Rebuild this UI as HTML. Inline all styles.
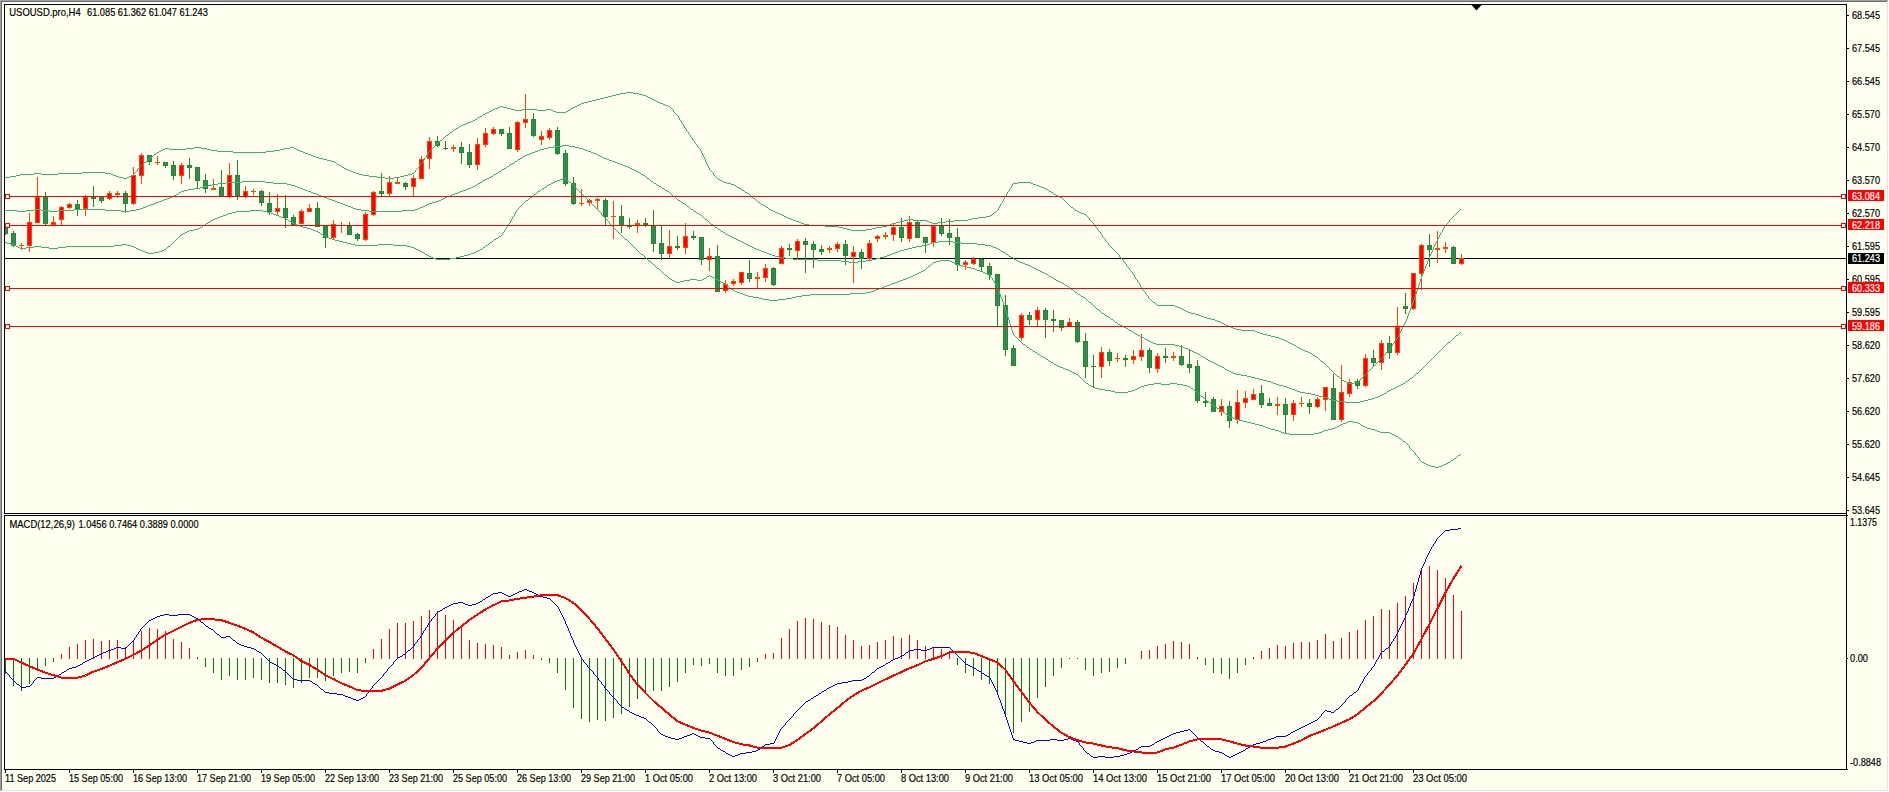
<!DOCTYPE html>
<html><head><meta charset="utf-8"><title>USOUSD.pro,H4</title>
<style>
html,body{margin:0;padding:0;background:#FFFFF0;overflow:hidden}
svg{display:block}
text{font-family:"Liberation Sans",sans-serif;font-size:10.1px;fill:#000;stroke:#000;stroke-width:0.18px}
text.w{fill:#fff;stroke:#fff}
</style></head><body>
<svg width="1889" height="792" viewBox="0 0 1889 792" shape-rendering="crispEdges">
<rect x="0" y="0" width="1889" height="792" fill="#FFFFF0"/>
<rect x="0" y="0" width="1888" height="1" fill="#A0A0A0"/><rect x="0" y="0" width="1" height="791" fill="#A0A0A0"/>
<rect x="1" y="1" width="1886" height="1" fill="#696969"/><rect x="1" y="1" width="1" height="789" fill="#696969"/>
<rect x="2" y="2" width="1845" height="2" fill="#FFFFFF"/><rect x="2" y="2" width="2" height="768" fill="#FFFFFF"/>
<rect x="1888" y="0" width="1" height="792" fill="#FFFFFF"/><rect x="0" y="791" width="1889" height="1" fill="#FFFFFF"/>
<rect x="1887" y="1" width="1" height="790" fill="#E3E3E3"/><rect x="1" y="790" width="1887" height="1" fill="#E3E3E3"/>
<defs><clipPath id="cm"><rect x="5" y="5" width="1841" height="508"/></clipPath><clipPath id="cs"><rect x="5" y="516" width="1841" height="253"/></clipPath></defs>
<g clip-path="url(#cm)">
<rect x="5" y="258" width="1841" height="1" fill="#000"/>
<rect x="5" y="225" width="1" height="10" fill="#228B22"/>
<rect x="3" y="226" width="5" height="8" fill="#228B22"/>
<rect x="4" y="227" width="3" height="6" fill="#2E8B57"/>
<rect x="13" y="231" width="1" height="16" fill="#228B22"/>
<rect x="11" y="233" width="5" height="13" fill="#228B22"/>
<rect x="12" y="234" width="3" height="11" fill="#2E8B57"/>
<rect x="21" y="243" width="1" height="7" fill="#FF4500"/>
<rect x="19" y="245" width="5" height="1" fill="#FF4500"/>
<rect x="29" y="213" width="1" height="39" fill="#FF4500"/>
<rect x="27" y="222" width="5" height="24" fill="#FF4500"/>
<rect x="28" y="223" width="3" height="22" fill="#FF0000"/>
<rect x="37" y="177" width="1" height="46" fill="#FF4500"/>
<rect x="35" y="197" width="5" height="26" fill="#FF4500"/>
<rect x="36" y="198" width="3" height="24" fill="#FF0000"/>
<rect x="45" y="192" width="1" height="33" fill="#228B22"/>
<rect x="43" y="197" width="5" height="27" fill="#228B22"/>
<rect x="44" y="198" width="3" height="25" fill="#2E8B57"/>
<rect x="53" y="216" width="1" height="9" fill="#FF4500"/>
<rect x="51" y="222" width="5" height="3" fill="#FF4500"/>
<rect x="52" y="223" width="3" height="1" fill="#FF0000"/>
<rect x="61" y="206" width="1" height="19" fill="#FF4500"/>
<rect x="59" y="207" width="5" height="13" fill="#FF4500"/>
<rect x="60" y="208" width="3" height="11" fill="#FF0000"/>
<rect x="69" y="203" width="1" height="6" fill="#FF4500"/>
<rect x="67" y="204" width="5" height="4" fill="#FF4500"/>
<rect x="68" y="205" width="3" height="2" fill="#FF0000"/>
<rect x="77" y="200" width="1" height="16" fill="#228B22"/>
<rect x="75" y="204" width="5" height="5" fill="#228B22"/>
<rect x="76" y="205" width="3" height="3" fill="#2E8B57"/>
<rect x="85" y="195" width="1" height="21" fill="#FF4500"/>
<rect x="83" y="197" width="5" height="12" fill="#FF4500"/>
<rect x="84" y="198" width="3" height="10" fill="#FF0000"/>
<rect x="93" y="186" width="1" height="21" fill="#228B22"/>
<rect x="91" y="197" width="5" height="2" fill="#228B22"/>
<rect x="101" y="196" width="1" height="7" fill="#228B22"/>
<rect x="99" y="197" width="5" height="4" fill="#228B22"/>
<rect x="100" y="198" width="3" height="2" fill="#2E8B57"/>
<rect x="109" y="191" width="1" height="9" fill="#FF4500"/>
<rect x="107" y="193" width="5" height="6" fill="#FF4500"/>
<rect x="108" y="194" width="3" height="4" fill="#FF0000"/>
<rect x="117" y="191" width="1" height="7" fill="#FF4500"/>
<rect x="115" y="193" width="5" height="2" fill="#FF4500"/>
<rect x="125" y="191" width="1" height="22" fill="#228B22"/>
<rect x="123" y="193" width="5" height="11" fill="#228B22"/>
<rect x="124" y="194" width="3" height="9" fill="#2E8B57"/>
<rect x="133" y="167" width="1" height="38" fill="#FF4500"/>
<rect x="131" y="175" width="5" height="29" fill="#FF4500"/>
<rect x="132" y="176" width="3" height="27" fill="#FF0000"/>
<rect x="141" y="153" width="1" height="31" fill="#FF4500"/>
<rect x="139" y="155" width="5" height="21" fill="#FF4500"/>
<rect x="140" y="156" width="3" height="19" fill="#FF0000"/>
<rect x="149" y="155" width="1" height="10" fill="#228B22"/>
<rect x="147" y="155" width="5" height="7" fill="#228B22"/>
<rect x="148" y="156" width="3" height="5" fill="#2E8B57"/>
<rect x="157" y="156" width="1" height="9" fill="#FF4500"/>
<rect x="155" y="162" width="5" height="1" fill="#FF4500"/>
<rect x="165" y="162" width="1" height="6" fill="#228B22"/>
<rect x="163" y="162" width="5" height="4" fill="#228B22"/>
<rect x="164" y="163" width="3" height="2" fill="#2E8B57"/>
<rect x="173" y="161" width="1" height="19" fill="#228B22"/>
<rect x="171" y="165" width="5" height="11" fill="#228B22"/>
<rect x="172" y="166" width="3" height="9" fill="#2E8B57"/>
<rect x="181" y="163" width="1" height="21" fill="#FF4500"/>
<rect x="179" y="165" width="5" height="11" fill="#FF4500"/>
<rect x="180" y="166" width="3" height="9" fill="#FF0000"/>
<rect x="189" y="158" width="1" height="21" fill="#228B22"/>
<rect x="187" y="165" width="5" height="3" fill="#228B22"/>
<rect x="188" y="166" width="3" height="1" fill="#2E8B57"/>
<rect x="197" y="167" width="1" height="21" fill="#228B22"/>
<rect x="195" y="167" width="5" height="14" fill="#228B22"/>
<rect x="196" y="168" width="3" height="12" fill="#2E8B57"/>
<rect x="205" y="174" width="1" height="19" fill="#228B22"/>
<rect x="203" y="180" width="5" height="9" fill="#228B22"/>
<rect x="204" y="181" width="3" height="7" fill="#2E8B57"/>
<rect x="213" y="179" width="1" height="11" fill="#FF4500"/>
<rect x="211" y="188" width="5" height="2" fill="#FF4500"/>
<rect x="221" y="170" width="1" height="27" fill="#228B22"/>
<rect x="219" y="187" width="5" height="10" fill="#228B22"/>
<rect x="220" y="188" width="3" height="8" fill="#2E8B57"/>
<rect x="229" y="163" width="1" height="35" fill="#FF4500"/>
<rect x="227" y="175" width="5" height="22" fill="#FF4500"/>
<rect x="228" y="176" width="3" height="20" fill="#FF0000"/>
<rect x="237" y="160" width="1" height="40" fill="#228B22"/>
<rect x="235" y="175" width="5" height="22" fill="#228B22"/>
<rect x="236" y="176" width="3" height="20" fill="#2E8B57"/>
<rect x="245" y="186" width="1" height="12" fill="#FF4500"/>
<rect x="243" y="191" width="5" height="6" fill="#FF4500"/>
<rect x="244" y="192" width="3" height="4" fill="#FF0000"/>
<rect x="253" y="189" width="1" height="6" fill="#FF4500"/>
<rect x="251" y="191" width="5" height="1" fill="#FF4500"/>
<rect x="261" y="190" width="1" height="16" fill="#228B22"/>
<rect x="259" y="191" width="5" height="12" fill="#228B22"/>
<rect x="260" y="192" width="3" height="10" fill="#2E8B57"/>
<rect x="269" y="192" width="1" height="23" fill="#228B22"/>
<rect x="267" y="203" width="5" height="9" fill="#228B22"/>
<rect x="268" y="204" width="3" height="7" fill="#2E8B57"/>
<rect x="277" y="194" width="1" height="22" fill="#FF4500"/>
<rect x="275" y="208" width="5" height="4" fill="#FF4500"/>
<rect x="276" y="209" width="3" height="2" fill="#FF0000"/>
<rect x="285" y="195" width="1" height="33" fill="#228B22"/>
<rect x="283" y="208" width="5" height="10" fill="#228B22"/>
<rect x="284" y="209" width="3" height="8" fill="#2E8B57"/>
<rect x="293" y="215" width="1" height="10" fill="#228B22"/>
<rect x="291" y="217" width="5" height="8" fill="#228B22"/>
<rect x="292" y="218" width="3" height="6" fill="#2E8B57"/>
<rect x="301" y="209" width="1" height="15" fill="#FF4500"/>
<rect x="299" y="211" width="5" height="13" fill="#FF4500"/>
<rect x="300" y="212" width="3" height="11" fill="#FF0000"/>
<rect x="309" y="204" width="1" height="8" fill="#FF4500"/>
<rect x="307" y="208" width="5" height="4" fill="#FF4500"/>
<rect x="308" y="209" width="3" height="2" fill="#FF0000"/>
<rect x="317" y="202" width="1" height="25" fill="#228B22"/>
<rect x="315" y="208" width="5" height="19" fill="#228B22"/>
<rect x="316" y="209" width="3" height="17" fill="#2E8B57"/>
<rect x="325" y="226" width="1" height="22" fill="#228B22"/>
<rect x="323" y="226" width="5" height="12" fill="#228B22"/>
<rect x="324" y="227" width="3" height="10" fill="#2E8B57"/>
<rect x="333" y="220" width="1" height="19" fill="#FF4500"/>
<rect x="331" y="224" width="5" height="14" fill="#FF4500"/>
<rect x="332" y="225" width="3" height="12" fill="#FF0000"/>
<rect x="341" y="222" width="1" height="11" fill="#FF4500"/>
<rect x="339" y="225" width="5" height="1" fill="#FF4500"/>
<rect x="349" y="222" width="1" height="13" fill="#228B22"/>
<rect x="347" y="226" width="5" height="9" fill="#228B22"/>
<rect x="348" y="227" width="3" height="7" fill="#2E8B57"/>
<rect x="357" y="233" width="1" height="8" fill="#228B22"/>
<rect x="355" y="234" width="5" height="5" fill="#228B22"/>
<rect x="356" y="235" width="3" height="3" fill="#2E8B57"/>
<rect x="365" y="212" width="1" height="29" fill="#FF4500"/>
<rect x="363" y="214" width="5" height="26" fill="#FF4500"/>
<rect x="364" y="215" width="3" height="24" fill="#FF0000"/>
<rect x="373" y="191" width="1" height="25" fill="#FF4500"/>
<rect x="371" y="192" width="5" height="23" fill="#FF4500"/>
<rect x="372" y="193" width="3" height="21" fill="#FF0000"/>
<rect x="381" y="173" width="1" height="23" fill="#228B22"/>
<rect x="379" y="191" width="5" height="3" fill="#228B22"/>
<rect x="380" y="192" width="3" height="1" fill="#2E8B57"/>
<rect x="389" y="176" width="1" height="20" fill="#FF4500"/>
<rect x="387" y="182" width="5" height="12" fill="#FF4500"/>
<rect x="388" y="183" width="3" height="10" fill="#FF0000"/>
<rect x="397" y="177" width="1" height="7" fill="#FF4500"/>
<rect x="395" y="182" width="5" height="2" fill="#FF4500"/>
<rect x="405" y="182" width="1" height="8" fill="#228B22"/>
<rect x="403" y="183" width="5" height="4" fill="#228B22"/>
<rect x="404" y="184" width="3" height="2" fill="#2E8B57"/>
<rect x="413" y="175" width="1" height="21" fill="#FF4500"/>
<rect x="411" y="178" width="5" height="9" fill="#FF4500"/>
<rect x="412" y="179" width="3" height="7" fill="#FF0000"/>
<rect x="421" y="156" width="1" height="23" fill="#FF4500"/>
<rect x="419" y="159" width="5" height="20" fill="#FF4500"/>
<rect x="420" y="160" width="3" height="18" fill="#FF0000"/>
<rect x="429" y="137" width="1" height="32" fill="#FF4500"/>
<rect x="427" y="141" width="5" height="18" fill="#FF4500"/>
<rect x="428" y="142" width="3" height="16" fill="#FF0000"/>
<rect x="437" y="136" width="1" height="11" fill="#228B22"/>
<rect x="435" y="141" width="5" height="5" fill="#228B22"/>
<rect x="436" y="142" width="3" height="3" fill="#2E8B57"/>
<rect x="445" y="141" width="1" height="9" fill="#228B22"/>
<rect x="443" y="148" width="5" height="1" fill="#228B22"/>
<rect x="453" y="145" width="1" height="7" fill="#FF4500"/>
<rect x="451" y="147" width="5" height="2" fill="#FF4500"/>
<rect x="461" y="142" width="1" height="22" fill="#228B22"/>
<rect x="459" y="147" width="5" height="6" fill="#228B22"/>
<rect x="460" y="148" width="3" height="4" fill="#2E8B57"/>
<rect x="469" y="144" width="1" height="24" fill="#228B22"/>
<rect x="467" y="152" width="5" height="13" fill="#228B22"/>
<rect x="468" y="153" width="3" height="11" fill="#2E8B57"/>
<rect x="477" y="138" width="1" height="32" fill="#FF4500"/>
<rect x="475" y="144" width="5" height="21" fill="#FF4500"/>
<rect x="476" y="145" width="3" height="19" fill="#FF0000"/>
<rect x="485" y="128" width="1" height="19" fill="#FF4500"/>
<rect x="483" y="133" width="5" height="12" fill="#FF4500"/>
<rect x="484" y="134" width="3" height="10" fill="#FF0000"/>
<rect x="493" y="127" width="1" height="8" fill="#FF4500"/>
<rect x="491" y="129" width="5" height="5" fill="#FF4500"/>
<rect x="492" y="130" width="3" height="3" fill="#FF0000"/>
<rect x="501" y="129" width="1" height="7" fill="#228B22"/>
<rect x="499" y="129" width="5" height="5" fill="#228B22"/>
<rect x="500" y="130" width="3" height="3" fill="#2E8B57"/>
<rect x="509" y="127" width="1" height="22" fill="#228B22"/>
<rect x="507" y="133" width="5" height="16" fill="#228B22"/>
<rect x="508" y="134" width="3" height="14" fill="#2E8B57"/>
<rect x="517" y="121" width="1" height="31" fill="#FF4500"/>
<rect x="515" y="122" width="5" height="28" fill="#FF4500"/>
<rect x="516" y="123" width="3" height="26" fill="#FF0000"/>
<rect x="525" y="94" width="1" height="34" fill="#FF4500"/>
<rect x="523" y="119" width="5" height="4" fill="#FF4500"/>
<rect x="524" y="120" width="3" height="2" fill="#FF0000"/>
<rect x="533" y="113" width="1" height="24" fill="#228B22"/>
<rect x="531" y="119" width="5" height="17" fill="#228B22"/>
<rect x="532" y="120" width="3" height="15" fill="#2E8B57"/>
<rect x="541" y="131" width="1" height="14" fill="#FF4500"/>
<rect x="539" y="136" width="5" height="4" fill="#FF4500"/>
<rect x="540" y="137" width="3" height="2" fill="#FF0000"/>
<rect x="549" y="128" width="1" height="12" fill="#FF4500"/>
<rect x="547" y="130" width="5" height="8" fill="#FF4500"/>
<rect x="548" y="131" width="3" height="6" fill="#FF0000"/>
<rect x="557" y="127" width="1" height="28" fill="#228B22"/>
<rect x="555" y="130" width="5" height="24" fill="#228B22"/>
<rect x="556" y="131" width="3" height="22" fill="#2E8B57"/>
<rect x="565" y="150" width="1" height="36" fill="#228B22"/>
<rect x="563" y="153" width="5" height="31" fill="#228B22"/>
<rect x="564" y="154" width="3" height="29" fill="#2E8B57"/>
<rect x="573" y="177" width="1" height="28" fill="#228B22"/>
<rect x="571" y="183" width="5" height="21" fill="#228B22"/>
<rect x="572" y="184" width="3" height="19" fill="#2E8B57"/>
<rect x="581" y="189" width="1" height="17" fill="#FF4500"/>
<rect x="579" y="203" width="5" height="1" fill="#FF4500"/>
<rect x="589" y="199" width="1" height="7" fill="#FF4500"/>
<rect x="587" y="200" width="5" height="3" fill="#FF4500"/>
<rect x="588" y="201" width="3" height="1" fill="#FF0000"/>
<rect x="597" y="198" width="1" height="11" fill="#FF4500"/>
<rect x="595" y="199" width="5" height="2" fill="#FF4500"/>
<rect x="605" y="198" width="1" height="27" fill="#228B22"/>
<rect x="603" y="200" width="5" height="17" fill="#228B22"/>
<rect x="604" y="201" width="3" height="15" fill="#2E8B57"/>
<rect x="613" y="201" width="1" height="38" fill="#FF4500"/>
<rect x="611" y="216" width="5" height="1" fill="#FF4500"/>
<rect x="621" y="205" width="1" height="28" fill="#228B22"/>
<rect x="619" y="216" width="5" height="10" fill="#228B22"/>
<rect x="620" y="217" width="3" height="8" fill="#2E8B57"/>
<rect x="629" y="218" width="1" height="11" fill="#228B22"/>
<rect x="627" y="226" width="5" height="1" fill="#228B22"/>
<rect x="637" y="220" width="1" height="13" fill="#FF4500"/>
<rect x="635" y="223" width="5" height="2" fill="#FF4500"/>
<rect x="645" y="218" width="1" height="9" fill="#228B22"/>
<rect x="643" y="223" width="5" height="2" fill="#228B22"/>
<rect x="653" y="210" width="1" height="42" fill="#228B22"/>
<rect x="651" y="226" width="5" height="18" fill="#228B22"/>
<rect x="652" y="227" width="3" height="16" fill="#2E8B57"/>
<rect x="661" y="226" width="1" height="34" fill="#228B22"/>
<rect x="659" y="243" width="5" height="11" fill="#228B22"/>
<rect x="660" y="244" width="3" height="9" fill="#2E8B57"/>
<rect x="669" y="230" width="1" height="28" fill="#FF4500"/>
<rect x="667" y="246" width="5" height="8" fill="#FF4500"/>
<rect x="668" y="247" width="3" height="6" fill="#FF0000"/>
<rect x="677" y="236" width="1" height="14" fill="#228B22"/>
<rect x="675" y="246" width="5" height="2" fill="#228B22"/>
<rect x="685" y="223" width="1" height="31" fill="#FF4500"/>
<rect x="683" y="236" width="5" height="12" fill="#FF4500"/>
<rect x="684" y="237" width="3" height="10" fill="#FF0000"/>
<rect x="693" y="231" width="1" height="9" fill="#228B22"/>
<rect x="691" y="236" width="5" height="2" fill="#228B22"/>
<rect x="701" y="237" width="1" height="28" fill="#228B22"/>
<rect x="699" y="237" width="5" height="23" fill="#228B22"/>
<rect x="700" y="238" width="3" height="21" fill="#2E8B57"/>
<rect x="709" y="248" width="1" height="23" fill="#FF4500"/>
<rect x="707" y="256" width="5" height="4" fill="#FF4500"/>
<rect x="708" y="257" width="3" height="2" fill="#FF0000"/>
<rect x="717" y="245" width="1" height="47" fill="#228B22"/>
<rect x="715" y="256" width="5" height="36" fill="#228B22"/>
<rect x="716" y="257" width="3" height="34" fill="#2E8B57"/>
<rect x="725" y="280" width="1" height="13" fill="#FF4500"/>
<rect x="723" y="284" width="5" height="7" fill="#FF4500"/>
<rect x="724" y="285" width="3" height="5" fill="#FF0000"/>
<rect x="733" y="279" width="1" height="7" fill="#FF4500"/>
<rect x="731" y="281" width="5" height="3" fill="#FF4500"/>
<rect x="732" y="282" width="3" height="1" fill="#FF0000"/>
<rect x="741" y="272" width="1" height="13" fill="#FF4500"/>
<rect x="739" y="272" width="5" height="11" fill="#FF4500"/>
<rect x="740" y="273" width="3" height="9" fill="#FF0000"/>
<rect x="749" y="260" width="1" height="22" fill="#228B22"/>
<rect x="747" y="273" width="5" height="6" fill="#228B22"/>
<rect x="748" y="274" width="3" height="4" fill="#2E8B57"/>
<rect x="757" y="272" width="1" height="16" fill="#FF4500"/>
<rect x="755" y="277" width="5" height="2" fill="#FF4500"/>
<rect x="765" y="264" width="1" height="18" fill="#FF4500"/>
<rect x="763" y="268" width="5" height="10" fill="#FF4500"/>
<rect x="764" y="269" width="3" height="8" fill="#FF0000"/>
<rect x="773" y="267" width="1" height="19" fill="#228B22"/>
<rect x="771" y="268" width="5" height="17" fill="#228B22"/>
<rect x="772" y="269" width="3" height="15" fill="#2E8B57"/>
<rect x="781" y="246" width="1" height="18" fill="#FF4500"/>
<rect x="779" y="248" width="5" height="16" fill="#FF4500"/>
<rect x="780" y="249" width="3" height="14" fill="#FF0000"/>
<rect x="789" y="244" width="1" height="12" fill="#228B22"/>
<rect x="787" y="248" width="5" height="2" fill="#228B22"/>
<rect x="797" y="239" width="1" height="20" fill="#FF4500"/>
<rect x="795" y="241" width="5" height="10" fill="#FF4500"/>
<rect x="796" y="242" width="3" height="8" fill="#FF0000"/>
<rect x="805" y="238" width="1" height="35" fill="#228B22"/>
<rect x="803" y="241" width="5" height="4" fill="#228B22"/>
<rect x="804" y="242" width="3" height="2" fill="#2E8B57"/>
<rect x="813" y="241" width="1" height="27" fill="#228B22"/>
<rect x="811" y="244" width="5" height="6" fill="#228B22"/>
<rect x="812" y="245" width="3" height="4" fill="#2E8B57"/>
<rect x="821" y="245" width="1" height="10" fill="#228B22"/>
<rect x="819" y="249" width="5" height="3" fill="#228B22"/>
<rect x="820" y="250" width="3" height="1" fill="#2E8B57"/>
<rect x="829" y="246" width="1" height="7" fill="#FF4500"/>
<rect x="827" y="248" width="5" height="2" fill="#FF4500"/>
<rect x="837" y="242" width="1" height="10" fill="#FF4500"/>
<rect x="835" y="244" width="5" height="5" fill="#FF4500"/>
<rect x="836" y="245" width="3" height="3" fill="#FF0000"/>
<rect x="845" y="240" width="1" height="25" fill="#228B22"/>
<rect x="843" y="244" width="5" height="12" fill="#228B22"/>
<rect x="844" y="245" width="3" height="10" fill="#2E8B57"/>
<rect x="853" y="246" width="1" height="37" fill="#FF4500"/>
<rect x="851" y="252" width="5" height="5" fill="#FF4500"/>
<rect x="852" y="253" width="3" height="3" fill="#FF0000"/>
<rect x="861" y="249" width="1" height="20" fill="#228B22"/>
<rect x="859" y="252" width="5" height="7" fill="#228B22"/>
<rect x="860" y="253" width="3" height="5" fill="#2E8B57"/>
<rect x="869" y="240" width="1" height="20" fill="#FF4500"/>
<rect x="867" y="243" width="5" height="16" fill="#FF4500"/>
<rect x="868" y="244" width="3" height="14" fill="#FF0000"/>
<rect x="877" y="235" width="1" height="7" fill="#FF4500"/>
<rect x="875" y="236" width="5" height="3" fill="#FF4500"/>
<rect x="876" y="237" width="3" height="1" fill="#FF0000"/>
<rect x="885" y="232" width="1" height="7" fill="#FF4500"/>
<rect x="883" y="235" width="5" height="2" fill="#FF4500"/>
<rect x="893" y="224" width="1" height="17" fill="#FF4500"/>
<rect x="891" y="227" width="5" height="8" fill="#FF4500"/>
<rect x="892" y="228" width="3" height="6" fill="#FF0000"/>
<rect x="901" y="218" width="1" height="24" fill="#228B22"/>
<rect x="899" y="227" width="5" height="11" fill="#228B22"/>
<rect x="900" y="228" width="3" height="9" fill="#2E8B57"/>
<rect x="909" y="216" width="1" height="26" fill="#FF4500"/>
<rect x="907" y="222" width="5" height="17" fill="#FF4500"/>
<rect x="908" y="223" width="3" height="15" fill="#FF0000"/>
<rect x="917" y="221" width="1" height="17" fill="#228B22"/>
<rect x="915" y="222" width="5" height="16" fill="#228B22"/>
<rect x="916" y="223" width="3" height="14" fill="#2E8B57"/>
<rect x="925" y="237" width="1" height="16" fill="#228B22"/>
<rect x="923" y="237" width="5" height="6" fill="#228B22"/>
<rect x="924" y="238" width="3" height="4" fill="#2E8B57"/>
<rect x="933" y="225" width="1" height="22" fill="#FF4500"/>
<rect x="931" y="226" width="5" height="17" fill="#FF4500"/>
<rect x="932" y="227" width="3" height="15" fill="#FF0000"/>
<rect x="941" y="218" width="1" height="18" fill="#228B22"/>
<rect x="939" y="226" width="5" height="8" fill="#228B22"/>
<rect x="940" y="227" width="3" height="6" fill="#2E8B57"/>
<rect x="949" y="219" width="1" height="26" fill="#228B22"/>
<rect x="947" y="233" width="5" height="5" fill="#228B22"/>
<rect x="948" y="234" width="3" height="3" fill="#2E8B57"/>
<rect x="957" y="228" width="1" height="43" fill="#228B22"/>
<rect x="955" y="237" width="5" height="28" fill="#228B22"/>
<rect x="956" y="238" width="3" height="26" fill="#2E8B57"/>
<rect x="965" y="260" width="1" height="10" fill="#FF4500"/>
<rect x="963" y="262" width="5" height="3" fill="#FF4500"/>
<rect x="964" y="263" width="3" height="1" fill="#FF0000"/>
<rect x="973" y="257" width="1" height="8" fill="#FF4500"/>
<rect x="971" y="259" width="5" height="5" fill="#FF4500"/>
<rect x="972" y="260" width="3" height="3" fill="#FF0000"/>
<rect x="981" y="258" width="1" height="13" fill="#228B22"/>
<rect x="979" y="259" width="5" height="8" fill="#228B22"/>
<rect x="980" y="260" width="3" height="6" fill="#2E8B57"/>
<rect x="989" y="263" width="1" height="17" fill="#228B22"/>
<rect x="987" y="266" width="5" height="9" fill="#228B22"/>
<rect x="988" y="267" width="3" height="7" fill="#2E8B57"/>
<rect x="997" y="274" width="1" height="52" fill="#228B22"/>
<rect x="995" y="274" width="5" height="32" fill="#228B22"/>
<rect x="996" y="275" width="3" height="30" fill="#2E8B57"/>
<rect x="1005" y="295" width="1" height="61" fill="#228B22"/>
<rect x="1003" y="305" width="5" height="45" fill="#228B22"/>
<rect x="1004" y="306" width="3" height="43" fill="#2E8B57"/>
<rect x="1013" y="345" width="1" height="21" fill="#228B22"/>
<rect x="1011" y="348" width="5" height="18" fill="#228B22"/>
<rect x="1012" y="349" width="3" height="16" fill="#2E8B57"/>
<rect x="1021" y="313" width="1" height="28" fill="#FF4500"/>
<rect x="1019" y="315" width="5" height="23" fill="#FF4500"/>
<rect x="1020" y="316" width="3" height="21" fill="#FF0000"/>
<rect x="1029" y="312" width="1" height="13" fill="#228B22"/>
<rect x="1027" y="315" width="5" height="5" fill="#228B22"/>
<rect x="1028" y="316" width="3" height="3" fill="#2E8B57"/>
<rect x="1037" y="307" width="1" height="19" fill="#FF4500"/>
<rect x="1035" y="310" width="5" height="10" fill="#FF4500"/>
<rect x="1036" y="311" width="3" height="8" fill="#FF0000"/>
<rect x="1045" y="308" width="1" height="30" fill="#228B22"/>
<rect x="1043" y="310" width="5" height="10" fill="#228B22"/>
<rect x="1044" y="311" width="3" height="8" fill="#2E8B57"/>
<rect x="1053" y="310" width="1" height="22" fill="#228B22"/>
<rect x="1051" y="319" width="5" height="2" fill="#228B22"/>
<rect x="1061" y="320" width="1" height="11" fill="#228B22"/>
<rect x="1059" y="320" width="5" height="8" fill="#228B22"/>
<rect x="1060" y="321" width="3" height="6" fill="#2E8B57"/>
<rect x="1069" y="318" width="1" height="9" fill="#FF4500"/>
<rect x="1067" y="322" width="5" height="5" fill="#FF4500"/>
<rect x="1068" y="323" width="3" height="3" fill="#FF0000"/>
<rect x="1077" y="320" width="1" height="23" fill="#228B22"/>
<rect x="1075" y="322" width="5" height="20" fill="#228B22"/>
<rect x="1076" y="323" width="3" height="18" fill="#2E8B57"/>
<rect x="1085" y="333" width="1" height="45" fill="#228B22"/>
<rect x="1083" y="341" width="5" height="26" fill="#228B22"/>
<rect x="1084" y="342" width="3" height="24" fill="#2E8B57"/>
<rect x="1093" y="355" width="1" height="33" fill="#228B22"/>
<rect x="1091" y="366" width="5" height="1" fill="#228B22"/>
<rect x="1101" y="347" width="1" height="31" fill="#FF4500"/>
<rect x="1099" y="352" width="5" height="15" fill="#FF4500"/>
<rect x="1100" y="353" width="3" height="13" fill="#FF0000"/>
<rect x="1109" y="349" width="1" height="17" fill="#228B22"/>
<rect x="1107" y="352" width="5" height="9" fill="#228B22"/>
<rect x="1108" y="353" width="3" height="7" fill="#2E8B57"/>
<rect x="1117" y="353" width="1" height="9" fill="#FF4500"/>
<rect x="1115" y="358" width="5" height="1" fill="#FF4500"/>
<rect x="1125" y="355" width="1" height="12" fill="#228B22"/>
<rect x="1123" y="358" width="5" height="2" fill="#228B22"/>
<rect x="1133" y="350" width="1" height="14" fill="#FF4500"/>
<rect x="1131" y="356" width="5" height="4" fill="#FF4500"/>
<rect x="1132" y="357" width="3" height="2" fill="#FF0000"/>
<rect x="1141" y="334" width="1" height="27" fill="#FF4500"/>
<rect x="1139" y="350" width="5" height="7" fill="#FF4500"/>
<rect x="1140" y="351" width="3" height="5" fill="#FF0000"/>
<rect x="1149" y="348" width="1" height="25" fill="#228B22"/>
<rect x="1147" y="350" width="5" height="18" fill="#228B22"/>
<rect x="1148" y="351" width="3" height="16" fill="#2E8B57"/>
<rect x="1157" y="353" width="1" height="20" fill="#FF4500"/>
<rect x="1155" y="356" width="5" height="13" fill="#FF4500"/>
<rect x="1156" y="357" width="3" height="11" fill="#FF0000"/>
<rect x="1165" y="348" width="1" height="15" fill="#228B22"/>
<rect x="1163" y="356" width="5" height="2" fill="#228B22"/>
<rect x="1173" y="352" width="1" height="9" fill="#FF4500"/>
<rect x="1171" y="356" width="5" height="2" fill="#FF4500"/>
<rect x="1181" y="345" width="1" height="21" fill="#228B22"/>
<rect x="1179" y="356" width="5" height="9" fill="#228B22"/>
<rect x="1180" y="357" width="3" height="7" fill="#2E8B57"/>
<rect x="1189" y="349" width="1" height="24" fill="#228B22"/>
<rect x="1187" y="364" width="5" height="4" fill="#228B22"/>
<rect x="1188" y="365" width="3" height="2" fill="#2E8B57"/>
<rect x="1197" y="360" width="1" height="43" fill="#228B22"/>
<rect x="1195" y="366" width="5" height="35" fill="#228B22"/>
<rect x="1196" y="367" width="3" height="33" fill="#2E8B57"/>
<rect x="1205" y="392" width="1" height="15" fill="#228B22"/>
<rect x="1203" y="401" width="5" height="2" fill="#228B22"/>
<rect x="1213" y="397" width="1" height="15" fill="#228B22"/>
<rect x="1211" y="399" width="5" height="13" fill="#228B22"/>
<rect x="1212" y="400" width="3" height="11" fill="#2E8B57"/>
<rect x="1221" y="399" width="1" height="17" fill="#FF4500"/>
<rect x="1219" y="406" width="5" height="6" fill="#FF4500"/>
<rect x="1220" y="407" width="3" height="4" fill="#FF0000"/>
<rect x="1229" y="401" width="1" height="27" fill="#228B22"/>
<rect x="1227" y="406" width="5" height="15" fill="#228B22"/>
<rect x="1228" y="407" width="3" height="13" fill="#2E8B57"/>
<rect x="1237" y="390" width="1" height="34" fill="#FF4500"/>
<rect x="1235" y="402" width="5" height="18" fill="#FF4500"/>
<rect x="1236" y="403" width="3" height="16" fill="#FF0000"/>
<rect x="1245" y="391" width="1" height="17" fill="#FF4500"/>
<rect x="1243" y="398" width="5" height="5" fill="#FF4500"/>
<rect x="1244" y="399" width="3" height="3" fill="#FF0000"/>
<rect x="1253" y="389" width="1" height="11" fill="#FF4500"/>
<rect x="1251" y="394" width="5" height="6" fill="#FF4500"/>
<rect x="1252" y="395" width="3" height="4" fill="#FF0000"/>
<rect x="1261" y="385" width="1" height="23" fill="#228B22"/>
<rect x="1259" y="393" width="5" height="12" fill="#228B22"/>
<rect x="1260" y="394" width="3" height="10" fill="#2E8B57"/>
<rect x="1269" y="398" width="1" height="8" fill="#228B22"/>
<rect x="1267" y="403" width="5" height="3" fill="#228B22"/>
<rect x="1268" y="404" width="3" height="1" fill="#2E8B57"/>
<rect x="1277" y="397" width="1" height="18" fill="#FF4500"/>
<rect x="1275" y="404" width="5" height="2" fill="#FF4500"/>
<rect x="1285" y="398" width="1" height="35" fill="#228B22"/>
<rect x="1283" y="404" width="5" height="11" fill="#228B22"/>
<rect x="1284" y="405" width="3" height="9" fill="#2E8B57"/>
<rect x="1293" y="400" width="1" height="21" fill="#FF4500"/>
<rect x="1291" y="403" width="5" height="12" fill="#FF4500"/>
<rect x="1292" y="404" width="3" height="10" fill="#FF0000"/>
<rect x="1301" y="397" width="1" height="10" fill="#FF4500"/>
<rect x="1299" y="403" width="5" height="1" fill="#FF4500"/>
<rect x="1309" y="399" width="1" height="15" fill="#228B22"/>
<rect x="1307" y="403" width="5" height="4" fill="#228B22"/>
<rect x="1308" y="404" width="3" height="2" fill="#2E8B57"/>
<rect x="1317" y="397" width="1" height="11" fill="#FF4500"/>
<rect x="1315" y="399" width="5" height="8" fill="#FF4500"/>
<rect x="1316" y="400" width="3" height="6" fill="#FF0000"/>
<rect x="1325" y="387" width="1" height="24" fill="#FF4500"/>
<rect x="1323" y="387" width="5" height="13" fill="#FF4500"/>
<rect x="1324" y="388" width="3" height="11" fill="#FF0000"/>
<rect x="1333" y="374" width="1" height="46" fill="#228B22"/>
<rect x="1331" y="388" width="5" height="32" fill="#228B22"/>
<rect x="1332" y="389" width="3" height="30" fill="#2E8B57"/>
<rect x="1341" y="365" width="1" height="57" fill="#FF4500"/>
<rect x="1339" y="392" width="5" height="28" fill="#FF4500"/>
<rect x="1340" y="393" width="3" height="26" fill="#FF0000"/>
<rect x="1349" y="379" width="1" height="18" fill="#FF4500"/>
<rect x="1347" y="382" width="5" height="12" fill="#FF4500"/>
<rect x="1348" y="383" width="3" height="10" fill="#FF0000"/>
<rect x="1357" y="379" width="1" height="10" fill="#228B22"/>
<rect x="1355" y="381" width="5" height="5" fill="#228B22"/>
<rect x="1356" y="382" width="3" height="3" fill="#2E8B57"/>
<rect x="1365" y="354" width="1" height="33" fill="#FF4500"/>
<rect x="1363" y="358" width="5" height="28" fill="#FF4500"/>
<rect x="1364" y="359" width="3" height="26" fill="#FF0000"/>
<rect x="1373" y="350" width="1" height="16" fill="#228B22"/>
<rect x="1371" y="358" width="5" height="5" fill="#228B22"/>
<rect x="1372" y="359" width="3" height="3" fill="#2E8B57"/>
<rect x="1381" y="340" width="1" height="30" fill="#FF4500"/>
<rect x="1379" y="343" width="5" height="20" fill="#FF4500"/>
<rect x="1380" y="344" width="3" height="18" fill="#FF0000"/>
<rect x="1389" y="336" width="1" height="23" fill="#228B22"/>
<rect x="1387" y="343" width="5" height="10" fill="#228B22"/>
<rect x="1388" y="344" width="3" height="8" fill="#2E8B57"/>
<rect x="1397" y="307" width="1" height="48" fill="#FF4500"/>
<rect x="1395" y="327" width="5" height="26" fill="#FF4500"/>
<rect x="1396" y="328" width="3" height="24" fill="#FF0000"/>
<rect x="1405" y="293" width="1" height="21" fill="#228B22"/>
<rect x="1403" y="306" width="5" height="3" fill="#228B22"/>
<rect x="1404" y="307" width="3" height="1" fill="#2E8B57"/>
<rect x="1413" y="273" width="1" height="37" fill="#FF4500"/>
<rect x="1411" y="273" width="5" height="36" fill="#FF4500"/>
<rect x="1412" y="274" width="3" height="34" fill="#FF0000"/>
<rect x="1421" y="244" width="1" height="46" fill="#FF4500"/>
<rect x="1419" y="245" width="5" height="29" fill="#FF4500"/>
<rect x="1420" y="246" width="3" height="27" fill="#FF0000"/>
<rect x="1429" y="234" width="1" height="33" fill="#228B22"/>
<rect x="1427" y="245" width="5" height="5" fill="#228B22"/>
<rect x="1428" y="246" width="3" height="3" fill="#2E8B57"/>
<rect x="1437" y="231" width="1" height="32" fill="#FF4500"/>
<rect x="1435" y="248" width="5" height="2" fill="#FF4500"/>
<rect x="1445" y="242" width="1" height="11" fill="#FF4500"/>
<rect x="1443" y="247" width="5" height="2" fill="#FF4500"/>
<rect x="1453" y="246" width="1" height="18" fill="#228B22"/>
<rect x="1451" y="247" width="5" height="17" fill="#228B22"/>
<rect x="1452" y="248" width="3" height="15" fill="#2E8B57"/>
<rect x="1461" y="254" width="1" height="11" fill="#FF4500"/>
<rect x="1459" y="258" width="5" height="6" fill="#FF4500"/>
<rect x="1460" y="259" width="3" height="4" fill="#FF0000"/>
<path d="M487 112h2v1h-2zM556 112h10v1h-10zM1241 330h14v1h-14zM1315 356h2v1h-2zM847 229h4v1h-4zM866 229h6v1h-6zM157 152h2v1h-2zM233 152h33v1h-33zM303 152h2v1h-2zM16 175h4v1h-4zM113 175h3v1h-3zM131 175h2v1h-2zM363 175h6v1h-6zM404 175h4v1h-4zM724 182h3v1h-3zM1018 182h13v1h-13zM82 172h23v1h-23zM353 172h3v1h-3zM801 223h3v1h-3zM892 223h4v1h-4zM932 223h6v1h-6zM616 94h4v1h-4zM639 94h4v1h-4zM1224 324h2v1h-2zM471 121h2v1h-2zM1281 339h3v1h-3zM1157 305h18v1h-18zM491 110h2v1h-2zM515 110h7v1h-7zM537 110h9v1h-9zM551 110h2v1h-2zM568 110h2v1h-2zM351 171h2v1h-2zM1271 336h4v1h-4zM348 170h3v1h-3zM0 178h4v1h-4zM123 178h4v1h-4zM385 178h9v1h-9zM786 217h2v1h-2zM978 217h8v1h-8zM604 97h4v1h-4zM648 97h2v1h-2zM1255 331h2v1h-2zM780 214h2v1h-2zM1084 214h2v1h-2zM771 210h2v1h-2zM1075 210h2v1h-2zM793 220h3v1h-3zM904 220h4v1h-4zM913 220h14v1h-14zM954 220h14v1h-14zM773 211h2v1h-2zM1077 211h2v1h-2zM159 151h2v1h-2zM217 151h16v1h-16zM266 151h8v1h-8zM300 151h3v1h-3zM839 227h4v1h-4zM876 227h6v1h-6zM34 173h7v1h-7zM58 173h24v1h-24zM105 173h6v1h-6zM356 173h3v1h-3zM412 173h2v1h-2zM825 226h14v1h-14zM882 226h5v1h-5zM592 100h4v1h-4zM654 100h2v1h-2zM1279 338h2v1h-2zM1348 383h6v1h-6zM165 148h4v1h-4zM186 148h8v1h-8zM201 148h6v1h-6zM284 148h6v1h-6zM294 148h2v1h-2zM473 120h2v1h-2zM581 103h3v1h-3zM660 103h3v1h-3zM10 176h6v1h-6zM116 176h3v1h-3zM129 176h2v1h-2zM369 176h8v1h-8zM400 176h4v1h-4zM612 95h4v1h-4zM643 95h3v1h-3zM342 167h2v1h-2zM1284 340h2v1h-2zM1217 321h3v1h-3zM596 99h4v1h-4zM652 99h2v1h-2zM600 98h4v1h-4zM650 98h2v1h-2zM463 124h3v1h-3zM1263 334h4v1h-4zM608 96h4v1h-4zM646 96h2v1h-2zM327 160h4v1h-4zM459 126h2v1h-2zM1186 311h2v1h-2zM1046 189h2v1h-2zM305 153h3v1h-3zM742 190h2v1h-2zM20 174h14v1h-14zM41 174h17v1h-17zM111 174h2v1h-2zM359 174h4v1h-4zM408 174h4v1h-4zM4 177h6v1h-6zM119 177h4v1h-4zM127 177h2v1h-2zM377 177h8v1h-8zM394 177h6v1h-6zM1177 307h3v1h-3zM495 108h3v1h-3zM507 108h4v1h-4zM571 108h2v1h-2zM727 183h4v1h-4zM1013 183h5v1h-5zM1031 183h2v1h-2zM1297 347h2v1h-2zM489 111h2v1h-2zM553 111h3v1h-3zM566 111h2v1h-2zM1226 325h2v1h-2zM799 222h2v1h-2zM896 222h4v1h-4zM929 222h3v1h-3zM938 222h8v1h-8zM1337 376h2v1h-2zM1228 326h3v1h-3zM1220 322h2v1h-2zM579 104h2v1h-2zM663 104h2v1h-2zM485 113h2v1h-2zM461 125h2v1h-2zM1267 335h4v1h-4zM843 228h4v1h-4zM872 228h4v1h-4zM620 93h6v1h-6zM633 93h6v1h-6zM150 157h2v1h-2zM316 157h3v1h-3zM480 116h2v1h-2zM1188 312h3v1h-3zM154 154h2v1h-2zM308 154h3v1h-3zM731 184h3v1h-3zM1033 184h3v1h-3zM796 221h3v1h-3zM900 221h4v1h-4zM927 221h2v1h-2zM946 221h8v1h-8zM851 230h15v1h-15zM163 149h2v1h-2zM169 149h17v1h-17zM207 149h4v1h-4zM280 149h4v1h-4zM296 149h2v1h-2zM777 213h3v1h-3zM1081 213h3v1h-3zM1058 196h2v1h-2zM769 209h2v1h-2zM161 150h2v1h-2zM211 150h6v1h-6zM274 150h6v1h-6zM298 150h2v1h-2zM1060 197h2v1h-2zM311 155h2v1h-2zM500 106h3v1h-3zM575 106h2v1h-2zM668 106h2v1h-2zM1346 382h2v1h-2zM1354 382h4v1h-4zM1222 323h2v1h-2zM498 107h2v1h-2zM503 107h4v1h-4zM573 107h2v1h-2zM804 224h5v1h-5zM890 224h2v1h-2zM468 122h3v1h-3zM584 102h4v1h-4zM658 102h2v1h-2zM194 147h7v1h-7zM290 147h4v1h-4zM323 159h4v1h-4zM1191 313h4v1h-4zM747 193h2v1h-2zM758 202h2v1h-2zM588 101h4v1h-4zM656 101h2v1h-2zM1184 310h2v1h-2zM626 92h7v1h-7zM1260 333h3v1h-3zM791 219h2v1h-2zM908 219h5v1h-5zM968 219h4v1h-4zM493 109h2v1h-2zM511 109h4v1h-4zM522 109h15v1h-15zM546 109h5v1h-5zM-3 179h3v1h-3zM718 179h2v1h-2zM753 198h2v1h-2zM1195 314h4v1h-4zM809 225h16v1h-16zM887 225h3v1h-3zM346 169h2v1h-2zM337 164h2v1h-2zM775 212h2v1h-2zM994 212h2v1h-2zM1079 212h2v1h-2zM1288 342h2v1h-2zM1204 317h3v1h-3zM446 135h2v1h-2zM1305 351h3v1h-3zM1211 319h4v1h-4zM1039 186h2v1h-2zM339 165h2v1h-2zM331 161h3v1h-3zM763 205h2v1h-2zM1049 191h2v1h-2zM745 192h2v1h-2zM1051 192h2v1h-2zM722 181h2v1h-2zM782 215h2v1h-2zM990 215h2v1h-2zM1215 320h2v1h-2zM144 162h2v1h-2zM334 162h2v1h-2zM1344 381h2v1h-2zM739 188h2v1h-2zM1044 188h2v1h-2zM1056 195h2v1h-2zM1257 332h3v1h-3zM450 132h2v1h-2zM1275 337h4v1h-4zM344 168h2v1h-2zM1153 302h2v1h-2zM577 105h2v1h-2zM665 105h3v1h-3zM1313 355h2v1h-2zM319 158h4v1h-4zM1201 316h3v1h-3zM761 204h2v1h-2zM478 117h2v1h-2zM440 140h2v1h-2zM734 185h2v1h-2zM1036 185h3v1h-3zM1182 309h2v1h-2zM1054 194h2v1h-2zM313 156h3v1h-3zM784 216h2v1h-2zM986 216h4v1h-4zM1308 352h2v1h-2zM1310 353h2v1h-2zM1301 349h2v1h-2zM1207 318h4v1h-4zM788 218h3v1h-3zM972 218h6v1h-6zM766 207h2v1h-2zM1071 207h2v1h-2zM1180 308h2v1h-2zM1199 315h2v1h-2zM475 119h2v1h-2zM720 180h2v1h-2zM483 114h2v1h-2zM1303 350h2v1h-2zM737 187h2v1h-2zM1041 187h3v1h-3zM1321 361h2v1h-2zM1294 345h2v1h-2zM1231 327h2v1h-2zM456 128h2v1h-2zM1290 343h2v1h-2zM1292 344h2v1h-2zM1175 306h2v1h-2zM1236 329h5v1h-5zM1233 328h3v1h-3zM466 123h2v1h-2zM454 129h2v1h-2zM1299 348h2v1h-2zM1342 380h2v1h-2zM1286 341h2v1h-2zM1334 373h1v1h-1zM1404 323h1v2h-1zM1146 294h1v1h-1zM1411 305h1v3h-1zM673 110h1v2h-1zM136 171h1v1h-1zM1147 295h1v1h-1zM1365 374h1v1h-1zM1400 331h1v2h-1zM1109 245h1v1h-1zM765 206h1v1h-1zM1396 338h1v2h-1zM1439 235h1v2h-1zM708 166h1v2h-1zM712 172h1v1h-1zM1372 367h1v1h-1zM1435 243h1v2h-1zM1424 269h1v2h-1zM134 173h1v1h-1zM999 206h1v2h-1zM336 163h1v1h-1zM1399 333h1v2h-1zM760 203h1v1h-1zM1379 360h1v1h-1zM741 189h1v1h-1zM1390 347h1v2h-1zM1415 294h1v3h-1zM674 112h1v1h-1zM1148 296h1v2h-1zM675 113h1v1h-1zM1149 298h1v1h-1zM1423 271h1v3h-1zM438 142h1v1h-1zM755 199h1v1h-1zM1097 228h1v2h-1zM1431 252h1v2h-1zM756 200h1v1h-1zM1101 234h1v1h-1zM415 170h1v2h-1zM1112 248h1v1h-1zM1405 321h1v2h-1zM1414 297h1v3h-1zM1155 303h1v1h-1zM156 153h1v1h-1zM1421 276h1v3h-1zM751 196h1v1h-1zM1430 254h1v2h-1zM700 149h1v2h-1zM752 197h1v1h-1zM703 155h1v2h-1zM1118 254h1v1h-1zM1119 255h1v2h-1zM1133 274h1v1h-1zM341 166h1v1h-1zM1151 300h1v1h-1zM993 213h1v1h-1zM757 201h1v1h-1zM1103 237h1v1h-1zM143 163h1v1h-1zM452 131h1v1h-1zM1417 288h1v3h-1zM1437 239h1v2h-1zM140 166h1v1h-1zM135 172h1v1h-1zM1364 375h1v1h-1zM688 132h1v2h-1zM701 151h1v2h-1zM1395 340h1v1h-1zM702 153h1v2h-1zM432 148h1v1h-1zM1408 313h1v3h-1zM1131 271h1v1h-1zM1416 291h1v3h-1zM1134 275h1v2h-1zM709 168h1v2h-1zM1371 368h1v1h-1zM1135 277h1v2h-1zM679 118h1v2h-1zM1420 279h1v3h-1zM420 164h1v1h-1zM1053 193h1v1h-1zM1394 341h1v2h-1zM1407 316h1v3h-1zM443 138h1v1h-1zM1145 292h1v2h-1zM153 155h1v1h-1zM1011 186h1v2h-1zM1443 228h1v2h-1zM1007 192h1v2h-1zM744 191h1v1h-1zM1122 259h1v1h-1zM1123 260h1v2h-1zM1136 279h1v1h-1zM707 164h1v2h-1zM1427 261h1v3h-1zM711 171h1v1h-1zM1454 215h1v1h-1zM1003 199h1v2h-1zM1401 329h1v2h-1zM1063 199h1v1h-1zM1114 250h1v1h-1zM1358 381h1v1h-1zM1006 194h1v2h-1zM1442 230h1v2h-1zM449 133h1v1h-1zM1438 237h1v2h-1zM1002 201h1v2h-1zM998 208h1v2h-1zM1434 245h1v2h-1zM691 137h1v1h-1zM1095 226h1v1h-1zM692 138h1v2h-1zM148 159h1v1h-1zM1124 262h1v1h-1zM1377 362h1v1h-1zM713 173h1v2h-1zM139 167h1v1h-1zM425 157h1v1h-1zM1384 355h1v1h-1zM768 208h1v1h-1zM146 161h1v1h-1zM482 115h1v1h-1zM1116 252h1v1h-1zM431 149h1v1h-1zM705 159h1v3h-1zM428 152h1v2h-1zM1387 351h1v1h-1zM424 158h1v2h-1zM1448 222h1v1h-1zM693 140h1v1h-1zM1012 184h1v2h-1zM419 165h1v2h-1zM435 145h1v1h-1zM715 176h1v1h-1zM442 139h1v1h-1zM1458 211h1v1h-1zM453 130h1v1h-1zM704 157h1v2h-1zM141 165h1v1h-1zM1137 280h1v2h-1zM1413 300h1v3h-1zM678 116h1v2h-1zM133 174h1v1h-1zM1362 377h1v1h-1zM1089 218h1v2h-1zM1099 231h1v1h-1zM1100 232h1v2h-1zM1323 362h1v1h-1zM1324 363h1v1h-1zM1001 203h1v1h-1zM1369 370h1v1h-1zM1433 247h1v3h-1zM997 210h1v1h-1zM1065 201h1v1h-1zM437 143h1v1h-1zM147 160h1v1h-1zM1376 363h1v1h-1zM1120 257h1v1h-1zM1121 258h1v1h-1zM1319 359h1v1h-1zM1139 283h1v2h-1zM676 114h1v1h-1zM1388 350h1v1h-1zM680 120h1v1h-1zM1383 356h1v1h-1zM1102 235h1v2h-1zM1455 214h1v1h-1zM1326 365h1v1h-1zM1403 325h1v2h-1zM1452 217h1v1h-1zM1156 304h1v1h-1zM423 160h1v1h-1zM1447 223h1v1h-1zM690 135h1v2h-1zM1419 282h1v3h-1zM1068 204h1v1h-1zM1459 210h1v1h-1zM1406 319h1v2h-1zM1402 327h1v2h-1zM1152 301h1v1h-1zM1363 376h1v1h-1zM1410 308h1v3h-1zM717 178h1v1h-1zM1426 264h1v2h-1zM137 169h1v2h-1zM1361 378h1v1h-1zM1382 357h1v1h-1zM1070 206h1v1h-1zM429 151h1v1h-1zM1125 263h1v1h-1zM1393 343h1v1h-1zM1312 354h1v1h-1zM1368 371h1v1h-1zM1425 266h1v3h-1zM436 144h1v1h-1zM1110 246h1v1h-1zM706 162h1v2h-1zM1432 250h1v2h-1zM1087 216h1v1h-1zM694 141h1v2h-1zM416 169h1v1h-1zM1127 266h1v1h-1zM1128 267h1v1h-1zM1451 218h1v1h-1zM1064 200h1v1h-1zM1328 367h1v1h-1zM1317 357h1v1h-1zM1370 369h1v1h-1zM1318 358h1v1h-1zM696 144h1v1h-1zM1090 220h1v1h-1zM1398 335h1v2h-1zM697 145h1v2h-1zM1418 285h1v3h-1zM1374 365h1v1h-1zM1129 268h1v2h-1zM714 175h1v1h-1zM477 118h1v1h-1zM1389 349h1v1h-1zM1422 274h1v2h-1zM1381 358h1v1h-1zM418 167h1v1h-1zM1066 202h1v1h-1zM1409 311h1v2h-1zM1048 190h1v1h-1zM1392 344h1v2h-1zM1331 370h1v1h-1zM1453 216h1v1h-1zM444 137h1v1h-1zM1140 285h1v2h-1zM1150 299h1v1h-1zM681 121h1v2h-1zM684 126h1v2h-1zM1445 225h1v1h-1zM698 147h1v1h-1zM1091 221h1v1h-1zM1460 209h1v1h-1zM1441 232h1v1h-1zM1429 256h1v3h-1zM1132 272h1v2h-1zM716 177h1v1h-1zM1412 303h1v2h-1zM1444 226h1v2h-1zM1428 259h1v2h-1zM1440 233h1v2h-1zM1004 197h1v2h-1zM138 168h1v1h-1zM1333 372h1v1h-1zM1138 282h1v1h-1zM1141 287h1v1h-1zM1436 241h1v2h-1zM1142 288h1v2h-1zM1296 346h1v1h-1zM1000 204h1v2h-1zM682 123h1v1h-1zM683 124h1v2h-1zM686 129h1v2h-1zM996 211h1v1h-1zM1094 224h1v2h-1zM458 127h1v1h-1zM1104 238h1v1h-1zM1105 239h1v2h-1zM1108 243h1v2h-1zM142 164h1v1h-1zM1375 364h1v1h-1zM1366 373h1v1h-1zM1397 337h1v1h-1zM434 146h1v1h-1zM1115 251h1v1h-1zM1373 366h1v1h-1zM1320 360h1v1h-1zM1126 264h1v2h-1zM426 155h1v2h-1zM1143 290h1v1h-1zM1144 291h1v1h-1zM1385 353h1v2h-1zM422 161h1v2h-1zM1380 359h1v1h-1zM1073 208h1v1h-1zM1446 224h1v1h-1zM1010 188h1v1h-1zM1062 198h1v1h-1zM417 168h1v1h-1zM1106 241h1v1h-1zM1096 227h1v1h-1zM1107 242h1v1h-1zM1327 366h1v1h-1zM1449 220h1v2h-1zM1069 205h1v1h-1zM695 143h1v1h-1zM1009 189h1v2h-1zM750 195h1v1h-1zM1117 253h1v1h-1zM1456 213h1v1h-1zM672 109h1v1h-1zM1360 379h1v1h-1zM1098 230h1v1h-1zM1340 378h1v1h-1zM1329 368h1v1h-1zM1341 379h1v1h-1zM1330 369h1v1h-1zM1367 372h1v1h-1zM1086 215h1v1h-1zM1335 374h1v1h-1zM1130 270h1v1h-1zM1336 375h1v1h-1zM427 154h1v1h-1zM152 156h1v1h-1zM433 147h1v1h-1zM1111 247h1v1h-1zM430 150h1v1h-1zM1450 219h1v1h-1zM421 163h1v1h-1zM1088 217h1v1h-1zM699 148h1v1h-1zM1005 196h1v1h-1zM448 134h1v1h-1zM677 115h1v1h-1zM570 109h1v1h-1zM1008 191h1v1h-1zM1113 249h1v1h-1zM687 131h1v1h-1zM1359 380h1v1h-1zM992 214h1v1h-1zM1325 364h1v1h-1zM1391 346h1v1h-1zM1386 352h1v1h-1zM439 141h1v1h-1zM149 158h1v1h-1zM1067 203h1v1h-1zM1378 361h1v1h-1zM749 194h1v1h-1zM1332 371h1v1h-1zM670 107h1v1h-1zM671 108h1v1h-1zM685 128h1v1h-1zM1092 222h1v1h-1zM689 134h1v1h-1zM1093 223h1v1h-1zM1074 209h1v1h-1zM1457 212h1v1h-1zM736 186h1v1h-1zM414 172h1v1h-1zM710 170h1v1h-1zM1339 377h1v1h-1zM445 136h1v1h-1z" fill="#3CB371"/>
<path d="M1 210h16v1h-16zM26 210h8v1h-8zM41 210h8v1h-8zM58 210h16v1h-16zM105 210h16v1h-16zM130 210h6v1h-6zM361 210h8v1h-8zM402 210h13v1h-13zM1062 283h2v1h-2zM1329 399h3v1h-3zM1368 399h4v1h-4zM764 252h3v1h-3zM895 252h3v1h-3zM1003 252h2v1h-2zM748 245h2v1h-2zM922 245h5v1h-5zM985 245h6v1h-6zM1255 378h4v1h-4zM1410 378h2v1h-2zM1056 280h2v1h-2zM1175 345h4v1h-4zM496 173h2v1h-2zM172 196h2v1h-2zM321 196h3v1h-3zM447 196h3v1h-3zM673 196h2v1h-2zM793 259h24v1h-24zM872 259h4v1h-4zM1014 259h2v1h-2zM1295 390h2v1h-2zM1389 390h2v1h-2zM1138 335h2v1h-2zM1456 335h2v1h-2zM744 243h2v1h-2zM930 243h2v1h-2zM961 243h16v1h-16zM736 239h2v1h-2zM-3 209h4v1h-4zM34 209h7v1h-7zM74 209h31v1h-31zM136 209h4v1h-4zM356 209h5v1h-5zM415 209h3v1h-3zM691 209h2v1h-2zM1345 402h15v1h-15zM17 211h9v1h-9zM49 211h9v1h-9zM121 211h9v1h-9zM369 211h33v1h-33zM694 211h2v1h-2zM181 191h3v1h-3zM308 191h3v1h-3zM460 191h3v1h-3zM667 191h2v1h-2zM730 236h2v1h-2zM544 148h4v1h-4zM579 148h4v1h-4zM1156 344h19v1h-19zM1147 340h2v1h-2zM1149 341h2v1h-2zM817 260h24v1h-24zM866 260h6v1h-6zM1016 260h2v1h-2zM1292 389h3v1h-3zM1391 389h2v1h-2zM226 182h16v1h-16zM265 182h8v1h-8zM480 182h2v1h-2zM1140 336h2v1h-2zM174 195h2v1h-2zM319 195h2v1h-2zM450 195h2v1h-2zM772 255h3v1h-3zM887 255h3v1h-3zM1259 379h4v1h-4zM1078 294h2v1h-2zM775 256h4v1h-4zM884 256h3v1h-3zM1009 256h2v1h-2zM527 154h3v1h-3zM596 154h2v1h-2zM242 181h23v1h-23zM651 181h2v1h-2zM1315 395h4v1h-4zM1380 395h2v1h-2zM523 156h2v1h-2zM600 156h2v1h-2zM1044 273h2v1h-2zM146 206h2v1h-2zM348 206h3v1h-3zM423 206h2v1h-2zM687 206h2v1h-2zM532 152h3v1h-3zM591 152h2v1h-2zM194 188h6v1h-6zM300 188h3v1h-3zM468 188h3v1h-3zM662 188h2v1h-2zM718 229h2v1h-2zM1247 376h4v1h-4zM740 241h2v1h-2zM938 241h15v1h-15zM1311 394h4v1h-4zM1382 394h2v1h-2zM785 258h8v1h-8zM876 258h4v1h-4zM176 194h2v1h-2zM316 194h3v1h-3zM452 194h3v1h-3zM507 166h2v1h-2zM625 166h3v1h-3zM1319 396h4v1h-4zM1378 396h2v1h-2zM212 184h6v1h-6zM287 184h4v1h-4zM1210 361h2v1h-2zM179 192h2v1h-2zM311 192h2v1h-2zM458 192h2v1h-2zM1102 313h2v1h-2zM841 261h8v1h-8zM858 261h8v1h-8zM1018 261h2v1h-2zM1276 384h3v1h-3zM1401 384h2v1h-2zM510 164h2v1h-2zM620 164h3v1h-3zM1251 377h4v1h-4zM1283 386h4v1h-4zM1397 386h2v1h-2zM515 161h2v1h-2zM612 161h3v1h-3zM769 254h3v1h-3zM890 254h2v1h-2zM1006 254h2v1h-2zM520 158h2v1h-2zM604 158h3v1h-3zM491 176h2v1h-2zM1236 374h5v1h-5zM767 253h2v1h-2zM892 253h3v1h-3zM487 178h2v1h-2zM647 178h2v1h-2zM1229 371h2v1h-2zM1222 367h2v1h-2zM1214 363h2v1h-2zM742 242h2v1h-2zM932 242h6v1h-6zM953 242h8v1h-8zM548 147h6v1h-6zM575 147h4v1h-4zM208 185h4v1h-4zM291 185h4v1h-4zM475 185h2v1h-2zM657 185h2v1h-2zM1097 309h2v1h-2zM1067 286h2v1h-2zM167 198h3v1h-3zM327 198h2v1h-2zM443 198h2v1h-2zM623 165h2v1h-2zM761 251h3v1h-3zM898 251h2v1h-2zM1001 251h2v1h-2zM162 200h2v1h-2zM332 200h3v1h-3zM439 200h2v1h-2zM678 200h2v1h-2zM609 160h3v1h-3zM170 197h2v1h-2zM324 197h3v1h-3zM445 197h2v1h-2zM148 205h3v1h-3zM345 205h3v1h-3zM425 205h2v1h-2zM728 235h2v1h-2zM1289 388h3v1h-3zM1393 388h2v1h-2zM1153 343h3v1h-3zM1145 339h2v1h-2zM140 208h3v1h-3zM353 208h3v1h-3zM418 208h2v1h-2zM754 248h2v1h-2zM908 248h4v1h-4zM996 248h2v1h-2zM1279 385h4v1h-4zM1399 385h2v1h-2zM1203 357h2v1h-2zM1081 296h2v1h-2zM1337 401h8v1h-8zM1360 401h4v1h-4zM634 170h2v1h-2zM554 146h8v1h-8zM569 146h6v1h-6zM1075 292h2v1h-2zM1034 268h2v1h-2zM723 232h2v1h-2zM154 203h2v1h-2zM340 203h3v1h-3zM429 203h3v1h-3zM683 203h2v1h-2zM752 247h2v1h-2zM912 247h4v1h-4zM993 247h3v1h-3zM715 227h2v1h-2zM156 202h3v1h-3zM337 202h3v1h-3zM432 202h4v1h-4zM681 202h2v1h-2zM143 207h3v1h-3zM351 207h2v1h-2zM420 207h3v1h-3zM1089 302h2v1h-2zM1071 289h2v1h-2zM1233 373h3v1h-3zM1416 373h2v1h-2zM849 262h9v1h-9zM1020 262h3v1h-3zM1227 370h2v1h-2zM188 189h6v1h-6zM303 189h2v1h-2zM466 189h2v1h-2zM159 201h3v1h-3zM335 201h2v1h-2zM436 201h3v1h-3zM711 224h2v1h-2zM1212 362h2v1h-2zM218 183h8v1h-8zM273 183h14v1h-14zM478 183h2v1h-2zM654 183h2v1h-2zM1115 322h2v1h-2zM504 168h2v1h-2zM630 168h2v1h-2zM1332 400h5v1h-5zM1364 400h4v1h-4zM1065 285h2v1h-2zM1058 281h2v1h-2zM1225 369h2v1h-2zM204 186h4v1h-4zM295 186h2v1h-2zM473 186h2v1h-2zM659 186h2v1h-2zM1305 393h6v1h-6zM1384 393h2v1h-2zM1198 354h2v1h-2zM540 149h4v1h-4zM583 149h2v1h-2zM1151 342h2v1h-2zM1448 342h2v1h-2zM1287 387h2v1h-2zM1395 387h2v1h-2zM628 167h2v1h-2zM200 187h4v1h-4zM297 187h3v1h-3zM471 187h2v1h-2zM1046 274h2v1h-2zM1190 350h2v1h-2zM489 177h2v1h-2zM750 246h2v1h-2zM916 246h6v1h-6zM991 246h2v1h-2zM615 162h2v1h-2zM538 150h2v1h-2zM585 150h3v1h-3zM721 231h2v1h-2zM746 244h2v1h-2zM927 244h3v1h-3zM977 244h8v1h-8zM313 193h3v1h-3zM455 193h3v1h-3zM1105 315h2v1h-2zM184 190h4v1h-4zM305 190h3v1h-3zM463 190h3v1h-3zM665 190h2v1h-2zM1271 382h2v1h-2zM518 159h2v1h-2zM607 159h2v1h-2zM1025 264h3v1h-3zM1300 392h5v1h-5zM1297 391h3v1h-3zM1387 391h2v1h-2zM1126 328h2v1h-2zM1273 383h3v1h-3zM1403 383h2v1h-2zM512 163h2v1h-2zM617 163h3v1h-3zM756 249h3v1h-3zM904 249h4v1h-4zM998 249h2v1h-2zM1241 375h6v1h-6zM1220 366h2v1h-2zM1206 359h2v1h-2zM1051 277h2v1h-2zM759 250h2v1h-2zM900 250h4v1h-4zM1060 282h2v1h-2zM151 204h3v1h-3zM343 204h2v1h-2zM427 204h2v1h-2zM726 234h2v1h-2zM1136 334h2v1h-2zM1129 330h2v1h-2zM1192 351h2v1h-2zM1194 352h2v1h-2zM1185 348h3v1h-3zM1038 270h2v1h-2zM1040 271h2v1h-2zM1032 267h2v1h-2zM1131 331h2v1h-2zM562 145h7v1h-7zM1124 327h2v1h-2zM1118 324h2v1h-2zM1218 365h2v1h-2zM638 172h2v1h-2zM1083 297h2v1h-2zM1049 276h2v1h-2zM1142 337h2v1h-2zM1134 333h2v1h-2zM1107 316h2v1h-2zM1183 347h2v1h-2zM602 157h2v1h-2zM1036 269h2v1h-2zM1030 266h2v1h-2zM535 151h3v1h-3zM588 151h3v1h-3zM485 179h2v1h-2zM1122 326h2v1h-2zM1267 381h4v1h-4zM1406 381h2v1h-2zM1216 364h2v1h-2zM494 174h2v1h-2zM641 174h2v1h-2zM1188 349h2v1h-2zM1208 360h2v1h-2zM530 153h2v1h-2zM593 153h3v1h-3zM1327 398h2v1h-2zM1372 398h3v1h-3zM1054 279h2v1h-2zM1263 380h4v1h-4zM1196 353h2v1h-2zM1179 346h4v1h-4zM1042 272h2v1h-2zM1028 265h2v1h-2zM1120 325h2v1h-2zM1323 397h4v1h-4zM1375 397h3v1h-3zM779 257h6v1h-6zM880 257h4v1h-4zM1011 257h2v1h-2zM1231 372h2v1h-2zM738 240h2v1h-2zM1201 356h2v1h-2zM1111 319h2v1h-2zM697 213h2v1h-2zM483 180h2v1h-2zM705 219h2v1h-2zM525 155h2v1h-2zM598 155h2v1h-2zM643 175h2v1h-2zM164 199h3v1h-3zM329 199h3v1h-3zM441 199h2v1h-2zM502 169h2v1h-2zM632 169h2v1h-2zM1023 263h2v1h-2zM499 171h2v1h-2zM636 171h2v1h-2zM734 238h2v1h-2zM699 214h2v1h-2zM732 237h2v1h-2zM1064 284h1v1h-1zM1077 293h1v1h-1zM1413 376h1v1h-1zM1429 361h1v1h-1zM1073 290h1v1h-1zM713 225h1v1h-1zM1005 253h1v1h-1zM714 226h1v1h-1zM1069 287h1v1h-1zM517 160h1v1h-1zM709 222h1v1h-1zM690 208h1v1h-1zM1450 341h1v1h-1zM501 170h1v1h-1zM1094 306h1v1h-1zM1415 374h1v1h-1zM704 218h1v1h-1zM1070 288h1v1h-1zM1096 308h1v1h-1zM1421 369h1v1h-1zM1436 354h1v1h-1zM1433 357h1v1h-1zM506 167h1v1h-1zM1200 355h1v1h-1zM1110 318h1v1h-1zM1080 295h1v1h-1zM1440 350h1v1h-1zM514 162h1v1h-1zM1447 343h1v1h-1zM482 181h1v1h-1zM1128 329h1v1h-1zM1414 375h1v1h-1zM1205 358h1v1h-1zM1085 298h1v1h-1zM1086 299h1v1h-1zM707 220h1v1h-1zM1092 304h1v1h-1zM1093 305h1v1h-1zM1074 291h1v1h-1zM1048 275h1v1h-1zM1432 358h1v1h-1zM1117 323h1v1h-1zM1087 300h1v1h-1zM1088 301h1v1h-1zM1099 310h1v1h-1zM1439 351h1v1h-1zM1455 336h1v1h-1zM1113 320h1v1h-1zM1095 307h1v1h-1zM1109 317h1v1h-1zM1422 368h1v1h-1zM1426 364h1v1h-1zM1441 349h1v1h-1zM1445 345h1v1h-1zM1408 380h1v1h-1zM498 172h1v1h-1zM522 157h1v1h-1zM1454 337h1v1h-1zM1412 377h1v1h-1zM646 177h1v1h-1zM1101 312h1v1h-1zM178 193h1v1h-1zM1458 334h1v1h-1zM1418 372h1v1h-1zM693 210h1v1h-1zM656 184h1v1h-1zM1425 365h1v1h-1zM1437 353h1v1h-1zM1386 392h1v1h-1zM1453 338h1v1h-1zM689 207h1v1h-1zM670 193h1v1h-1zM1133 332h1v1h-1zM1405 382h1v1h-1zM1444 346h1v1h-1zM1420 370h1v1h-1zM1459 333h1v1h-1zM1427 363h1v1h-1zM653 182h1v1h-1zM1434 356h1v1h-1zM1431 359h1v1h-1zM686 205h1v1h-1zM649 179h1v1h-1zM1104 314h1v1h-1zM1438 352h1v1h-1zM645 176h1v1h-1zM1100 311h1v1h-1zM1452 339h1v1h-1zM677 199h1v1h-1zM696 212h1v1h-1zM1114 321h1v1h-1zM672 195h1v1h-1zM1419 371h1v1h-1zM1008 255h1v1h-1zM717 228h1v1h-1zM669 192h1v1h-1zM1423 367h1v1h-1zM701 215h1v1h-1zM702 216h1v1h-1zM1430 360h1v1h-1zM664 189h1v1h-1zM708 221h1v1h-1zM1460 332h1v1h-1zM1013 258h1v1h-1zM1451 340h1v1h-1zM703 217h1v1h-1zM1409 379h1v1h-1zM680 201h1v1h-1zM661 187h1v1h-1zM509 165h1v1h-1zM675 197h1v1h-1zM676 198h1v1h-1zM1446 344h1v1h-1zM1443 347h1v1h-1zM1053 278h1v1h-1zM493 175h1v1h-1zM720 230h1v1h-1zM671 194h1v1h-1zM477 184h1v1h-1zM685 204h1v1h-1zM640 173h1v1h-1zM710 223h1v1h-1zM1424 366h1v1h-1zM725 233h1v1h-1zM1144 338h1v1h-1zM1428 362h1v1h-1zM650 180h1v1h-1zM1091 303h1v1h-1zM1435 355h1v1h-1zM1442 348h1v1h-1zM1224 368h1v1h-1zM1000 250h1v1h-1z" fill="#3CB371"/>
<path d="M427 255h2v1h-2zM464 255h4v1h-4zM740 293h3v1h-3zM850 293h16v1h-16zM236 211h14v1h-14zM263 211h4v1h-4zM763 299h6v1h-6zM778 299h8v1h-8zM18 247h2v1h-2zM26 247h8v1h-8zM41 247h8v1h-8zM58 247h8v1h-8zM134 247h2v1h-2zM411 247h3v1h-3zM483 247h2v1h-2zM325 236h2v1h-2zM499 236h2v1h-2zM1099 389h6v1h-6zM1135 389h2v1h-2zM145 252h3v1h-3zM154 252h5v1h-5zM422 252h2v1h-2zM474 252h2v1h-2zM526 200h2v1h-2zM16 246h2v1h-2zM34 246h7v1h-7zM66 246h48v1h-48zM131 246h3v1h-3zM168 246h2v1h-2zM407 246h4v1h-4zM3 242h4v1h-4zM343 242h4v1h-4zM490 242h2v1h-2zM1268 428h3v1h-3zM1332 428h3v1h-3zM1367 428h4v1h-4zM300 226h3v1h-3zM20 248h6v1h-6zM49 248h9v1h-9zM136 248h2v1h-2zM414 248h2v1h-2zM11 244h3v1h-3zM122 244h5v1h-5zM351 244h4v1h-4zM378 244h15v1h-15zM232 212h4v1h-4zM267 212h4v1h-4zM1251 423h4v1h-4zM1343 423h3v1h-3zM1358 423h2v1h-2zM1259 425h4v1h-4zM1339 425h2v1h-2zM1361 425h2v1h-2zM148 253h6v1h-6zM471 253h3v1h-3zM549 184h2v1h-2zM140 250h3v1h-3zM162 250h2v1h-2zM418 250h2v1h-2zM478 250h2v1h-2zM1115 392h13v1h-13zM1049 361h2v1h-2zM748 296h5v1h-5zM796 296h6v1h-6zM676 282h4v1h-4zM721 282h2v1h-2zM895 282h3v1h-3zM1030 349h2v1h-2zM1281 432h3v1h-3zM1319 432h3v1h-3zM1380 432h10v1h-10zM919 272h2v1h-2zM983 272h2v1h-2zM743 294h2v1h-2zM810 294h40v1h-40zM1289 434h25v1h-25zM1392 434h2v1h-2zM759 298h4v1h-4zM786 298h6v1h-6zM975 269h2v1h-2zM1214 406h2v1h-2zM657 268h2v1h-2zM971 268h4v1h-4zM674 281h2v1h-2zM680 281h4v1h-4zM898 281h2v1h-2zM329 238h3v1h-3zM496 238h2v1h-2zM215 218h3v1h-3zM284 218h2v1h-2zM534 194h2v1h-2zM923 270h2v1h-2zM977 270h3v1h-3zM14 245h2v1h-2zM114 245h8v1h-8zM127 245h4v1h-4zM355 245h23v1h-23zM393 245h14v1h-14zM486 245h2v1h-2zM143 251h2v1h-2zM159 251h3v1h-3zM420 251h2v1h-2zM476 251h2v1h-2zM1263 426h2v1h-2zM1337 426h2v1h-2zM1363 426h2v1h-2zM1247 422h4v1h-4zM1346 422h2v1h-2zM1353 422h5v1h-5zM933 262h3v1h-3zM952 262h2v1h-2zM1086 383h2v1h-2zM1154 383h7v1h-7zM1170 383h7v1h-7zM551 183h2v1h-2zM431 257h2v1h-2zM456 257h4v1h-4zM200 227h2v1h-2zM303 227h4v1h-4zM1051 362h2v1h-2zM745 295h3v1h-3zM802 295h8v1h-8zM194 229h4v1h-4zM311 229h2v1h-2zM433 258h3v1h-3zM450 258h6v1h-6zM1396 436h2v1h-2zM332 239h3v1h-3zM494 239h2v1h-2zM625 239h2v1h-2zM1229 416h2v1h-2zM189 230h5v1h-5zM313 230h3v1h-3zM538 191h2v1h-2zM1211 404h2v1h-2zM138 249h2v1h-2zM164 249h2v1h-2zM416 249h2v1h-2zM480 249h2v1h-2zM429 256h2v1h-2zM460 256h4v1h-4zM967 267h4v1h-4zM1275 430h4v1h-4zM1324 430h4v1h-4zM1375 430h2v1h-2zM707 276h2v1h-2zM710 276h2v1h-2zM911 276h2v1h-2zM425 254h2v1h-2zM468 254h3v1h-3zM641 254h2v1h-2zM295 224h2v1h-2zM1431 466h4v1h-4zM1439 466h3v1h-3zM187 231h2v1h-2zM316 231h2v1h-2zM753 297h6v1h-6zM792 297h4v1h-4zM1033 351h2v1h-2zM1231 417h2v1h-2zM530 197h2v1h-2zM1284 433h5v1h-5zM1314 433h5v1h-5zM1390 433h2v1h-2zM211 220h2v1h-2zM557 180h3v1h-3zM1091 386h2v1h-2zM1141 386h3v1h-3zM1187 386h3v1h-3zM1243 421h4v1h-4zM1348 421h5v1h-5zM203 225h2v1h-2zM297 225h3v1h-3zM7 243h4v1h-4zM347 243h4v1h-4zM208 222h2v1h-2zM291 222h2v1h-2zM727 286h2v1h-2zM884 286h3v1h-3zM1265 427h3v1h-3zM1335 427h2v1h-2zM1365 427h2v1h-2zM1054 364h2v1h-2zM1035 352h2v1h-2zM1027 347h2v1h-2zM733 290h2v1h-2zM874 290h2v1h-2zM436 259h14v1h-14zM560 179h4v1h-4zM1093 387h2v1h-2zM1139 387h2v1h-2zM1201 396h2v1h-2zM649 261h2v1h-2zM936 261h4v1h-4zM950 261h2v1h-2zM769 300h9v1h-9zM1095 388h4v1h-4zM1137 388h2v1h-2zM1191 388h2v1h-2zM228 213h4v1h-4zM271 213h2v1h-2zM712 277h2v1h-2zM908 277h3v1h-3zM1458 455h2v1h-2zM670 279h2v1h-2zM690 279h7v1h-7zM702 279h2v1h-2zM716 279h2v1h-2zM903 279h3v1h-3zM1023 344h2v1h-2zM-1 241h4v1h-4zM339 241h4v1h-4zM223 215h3v1h-3zM276 215h3v1h-3zM206 223h2v1h-2zM293 223h2v1h-2zM940 260h10v1h-10zM1148 384h6v1h-6zM1161 384h9v1h-9zM1177 384h6v1h-6zM1038 354h2v1h-2zM198 228h2v1h-2zM307 228h4v1h-4zM250 210h13v1h-13zM956 264h3v1h-3zM1236 419h3v1h-3zM1279 431h2v1h-2zM1322 431h2v1h-2zM1377 431h3v1h-3zM1105 390h6v1h-6zM1132 390h3v1h-3zM327 237h2v1h-2zM915 274h2v1h-2zM988 274h2v1h-2zM218 217h2v1h-2zM281 217h3v1h-3zM1217 408h2v1h-2zM1111 391h4v1h-4zM1128 391h4v1h-4zM1195 391h2v1h-2zM954 263h2v1h-2zM1089 385h2v1h-2zM1144 385h4v1h-4zM1183 385h4v1h-4zM1422 462h2v1h-2zM1448 462h2v1h-2zM917 273h2v1h-2zM985 273h3v1h-3zM1426 464h2v1h-2zM1444 464h2v1h-2zM-3 240h2v1h-2zM335 240h4v1h-4zM735 291h2v1h-2zM871 291h3v1h-3zM882 287h2v1h-2zM737 292h3v1h-3zM866 292h5v1h-5zM181 234h2v1h-2zM321 234h2v1h-2zM185 232h2v1h-2zM318 232h2v1h-2zM547 185h2v1h-2zM1435 467h4v1h-4zM1043 357h2v1h-2zM1227 415h2v1h-2zM928 266h2v1h-2zM963 266h4v1h-4zM959 265h4v1h-4zM723 283h2v1h-2zM892 283h3v1h-3zM213 219h2v1h-2zM286 219h2v1h-2zM220 216h3v1h-3zM279 216h2v1h-2zM1223 412h2v1h-2zM1271 429h4v1h-4zM1328 429h4v1h-4zM1371 429h4v1h-4zM921 271h2v1h-2zM980 271h3v1h-3zM1072 372h2v1h-2zM555 181h2v1h-2zM665 275h2v1h-2zM913 275h2v1h-2zM1255 424h4v1h-4zM1341 424h2v1h-2zM1041 356h2v1h-2zM672 280h2v1h-2zM684 280h6v1h-6zM697 280h5v1h-5zM718 280h2v1h-2zM900 280h3v1h-3zM1424 463h2v1h-2zM1446 463h2v1h-2zM226 214h2v1h-2zM273 214h3v1h-3zM890 284h2v1h-2zM704 278h2v1h-2zM714 278h2v1h-2zM906 278h2v1h-2zM323 235h2v1h-2zM183 233h2v1h-2zM1428 465h3v1h-3zM1442 465h2v1h-2zM289 221h2v1h-2zM1076 374h2v1h-2zM1399 438h2v1h-2zM1454 458h2v1h-2zM553 182h2v1h-2zM569 182h2v1h-2zM887 285h3v1h-3zM564 178h2v1h-2zM1074 373h2v1h-2zM1068 370h2v1h-2zM879 288h3v1h-3zM731 289h2v1h-2zM876 289h3v1h-3zM544 187h2v1h-2zM1451 460h2v1h-2zM1065 369h3v1h-3zM1239 420h4v1h-4zM1070 371h2v1h-2zM1063 368h2v1h-2zM1056 365h2v1h-2zM1394 435h2v1h-2zM1403 441h2v1h-2zM1219 409h2v1h-2zM1233 418h3v1h-3zM1058 366h2v1h-2zM1060 367h3v1h-3zM1046 359h2v1h-2zM542 188h2v1h-2zM1207 401h2v1h-2zM643 255h1v1h-1zM179 236h1v1h-1zM1411 449h1v1h-1zM1412 450h1v1h-1zM994 281h1v2h-1zM926 268h1v1h-1zM1001 297h1v2h-1zM605 218h1v1h-1zM660 270h1v1h-1zM1002 299h1v3h-1zM638 251h1v1h-1zM1005 308h1v3h-1zM505 229h1v1h-1zM1015 336h1v1h-1zM1045 358h1v1h-1zM578 190h1v1h-1zM167 247h1v1h-1zM536 193h1v1h-1zM1199 394h1v1h-1zM1210 403h1v1h-1zM579 191h1v1h-1zM424 253h1v1h-1zM644 256h1v1h-1zM615 229h1v1h-1zM656 267h1v1h-1zM667 276h1v1h-1zM645 257h1v1h-1zM1040 355h1v1h-1zM1413 451h1v1h-1zM1011 327h1v3h-1zM504 230h1v2h-1zM1414 452h1v1h-1zM585 197h1v1h-1zM1000 294h1v3h-1zM1206 400h1v1h-1zM1225 413h1v1h-1zM607 220h1v1h-1zM622 236h1v1h-1zM640 253h1v1h-1zM173 242h1v1h-1zM1017 338h1v1h-1zM1029 348h1v1h-1zM515 212h1v2h-1zM1190 387h1v1h-1zM488 244h1v1h-1zM1401 439h1v1h-1zM1010 324h1v3h-1zM1416 455h1v1h-1zM518 208h1v1h-1zM1457 456h1v1h-1zM514 214h1v2h-1zM587 199h1v1h-1zM609 222h1v2h-1zM706 277h1v1h-1zM510 221h1v2h-1zM525 201h1v1h-1zM202 226h1v1h-1zM1408 445h1v1h-1zM931 264h1v1h-1zM533 195h1v1h-1zM498 237h1v1h-1zM1418 457h1v1h-1zM541 189h1v1h-1zM166 248h1v1h-1zM611 225h1v1h-1zM652 263h1v1h-1zM612 226h1v1h-1zM1410 448h1v1h-1zM581 193h1v1h-1zM997 286h1v2h-1zM596 208h1v1h-1zM1213 405h1v1h-1zM647 259h1v1h-1zM618 232h1v1h-1zM636 249h1v1h-1zM659 269h1v1h-1zM1006 311h1v3h-1zM1007 314h1v3h-1zM172 243h1v1h-1zM519 207h1v1h-1zM1209 402h1v1h-1zM654 265h1v1h-1zM655 266h1v1h-1zM991 277h1v1h-1zM995 283h1v1h-1zM583 195h1v1h-1zM1204 398h1v1h-1zM620 234h1v1h-1zM661 271h1v1h-1zM930 265h1v1h-1zM532 196h1v1h-1zM205 224h1v1h-1zM1008 317h1v3h-1zM174 241h1v1h-1zM1022 343h1v1h-1zM1415 453h1v2h-1zM540 190h1v1h-1zM586 198h1v1h-1zM489 243h1v1h-1zM1082 379h1v1h-1zM178 237h1v1h-1zM592 204h1v1h-1zM614 228h1v1h-1zM593 205h1v1h-1zM925 269h1v1h-1zM1417 456h1v1h-1zM1216 407h1v1h-1zM503 232h1v1h-1zM594 206h1v1h-1zM627 240h1v1h-1zM729 287h1v1h-1zM616 230h1v1h-1zM668 277h1v1h-1zM617 231h1v1h-1zM482 248h1v1h-1zM506 227h1v2h-1zM1419 458h1v2h-1zM537 192h1v1h-1zM502 233h1v2h-1zM601 213h1v2h-1zM663 273h1v1h-1zM664 274h1v1h-1zM170 245h1v1h-1zM517 209h1v1h-1zM1221 410h1v1h-1zM629 242h1v1h-1zM630 243h1v1h-1zM619 233h1v1h-1zM1078 375h1v1h-1zM177 238h1v1h-1zM524 202h1v1h-1zM1421 461h1v1h-1zM588 200h1v1h-1zM516 210h1v2h-1zM512 217h1v2h-1zM508 224h1v2h-1zM1013 333h1v2h-1zM996 284h1v2h-1zM632 245h1v1h-1zM1079 376h1v1h-1zM511 219h1v2h-1zM1080 377h1v1h-1zM590 202h1v1h-1zM591 203h1v1h-1zM1009 320h1v4h-1zM1053 363h1v1h-1zM1012 330h1v3h-1zM998 288h1v3h-1zM597 209h1v1h-1zM1453 459h1v1h-1zM485 246h1v1h-1zM493 240h1v1h-1zM1004 305h1v3h-1zM523 203h1v1h-1zM1406 443h1v1h-1zM932 263h1v1h-1zM520 206h1v1h-1zM1018 339h1v1h-1zM599 211h1v1h-1zM621 235h1v1h-1zM600 212h1v1h-1zM662 272h1v1h-1zM507 226h1v1h-1zM1402 440h1v1h-1zM320 233h1v1h-1zM999 291h1v3h-1zM628 241h1v1h-1zM669 278h1v1h-1zM1003 302h1v3h-1zM171 244h1v1h-1zM568 181h1v1h-1zM602 215h1v1h-1zM634 247h1v1h-1zM623 237h1v1h-1zM635 248h1v1h-1zM624 238h1v1h-1zM175 240h1v1h-1zM522 204h1v1h-1zM575 187h1v1h-1zM720 281h1v1h-1zM1460 454h1v1h-1zM990 275h1v2h-1zM603 216h1v1h-1zM1203 397h1v1h-1zM604 217h1v1h-1zM492 241h1v1h-1zM637 250h1v1h-1zM1084 381h1v1h-1zM709 275h1v1h-1zM1085 382h1v1h-1zM528 199h1v1h-1zM1014 335h1v1h-1zM595 207h1v1h-1zM577 189h1v1h-1zM730 288h1v1h-1zM1198 393h1v1h-1zM1420 460h1v1h-1zM992 278h1v2h-1zM584 196h1v1h-1zM725 284h1v1h-1zM1193 389h1v1h-1zM726 285h1v1h-1zM1194 390h1v1h-1zM1205 399h1v1h-1zM1405 442h1v1h-1zM1016 337h1v1h-1zM1200 395h1v1h-1zM598 210h1v1h-1zM631 244h1v1h-1zM521 205h1v1h-1zM571 183h1v1h-1zM572 184h1v1h-1zM1037 353h1v1h-1zM566 179h1v1h-1zM501 235h1v1h-1zM567 180h1v1h-1zM633 246h1v1h-1zM1081 378h1v1h-1zM288 220h1v1h-1zM1032 350h1v1h-1zM573 185h1v1h-1zM606 219h1v1h-1zM574 186h1v1h-1zM639 252h1v1h-1zM651 262h1v1h-1zM1088 384h1v1h-1zM176 239h1v1h-1zM546 186h1v1h-1zM1409 446h1v2h-1zM580 192h1v1h-1zM646 258h1v1h-1zM1450 461h1v1h-1zM1360 424h1v1h-1zM210 221h1v1h-1zM180 235h1v1h-1zM1083 380h1v1h-1zM927 267h1v1h-1zM1226 414h1v1h-1zM608 221h1v1h-1zM1197 392h1v1h-1zM529 198h1v1h-1zM653 264h1v1h-1zM1407 444h1v1h-1zM1019 340h1v1h-1zM1456 457h1v1h-1zM582 194h1v1h-1zM1222 411h1v1h-1zM513 216h1v1h-1zM648 260h1v1h-1zM509 223h1v1h-1zM1025 345h1v1h-1zM1026 346h1v1h-1zM610 224h1v1h-1zM589 201h1v1h-1zM1398 437h1v1h-1zM1048 360h1v1h-1zM1020 341h1v1h-1zM1021 342h1v1h-1zM993 280h1v1h-1zM576 188h1v1h-1zM613 227h1v1h-1z" fill="#3CB371"/>
<rect x="5" y="196" width="1841" height="1" fill="#FF0000"/>
<rect x="5" y="194" width="5" height="5" fill="#FF0000"/><rect x="6" y="195" width="3" height="3" fill="#FFFFFF"/>
<rect x="1841" y="194" width="5" height="5" fill="#FF0000"/><rect x="1842" y="195" width="3" height="3" fill="#FFFFFF"/>
<rect x="5" y="225" width="1841" height="1" fill="#FF0000"/>
<rect x="5" y="223" width="5" height="5" fill="#FF0000"/><rect x="6" y="224" width="3" height="3" fill="#FFFFFF"/>
<rect x="1841" y="223" width="5" height="5" fill="#FF0000"/><rect x="1842" y="224" width="3" height="3" fill="#FFFFFF"/>
<rect x="5" y="288" width="1841" height="1" fill="#FF0000"/>
<rect x="5" y="286" width="5" height="5" fill="#FF0000"/><rect x="6" y="287" width="3" height="3" fill="#FFFFFF"/>
<rect x="1841" y="286" width="5" height="5" fill="#FF0000"/><rect x="1842" y="287" width="3" height="3" fill="#FFFFFF"/>
<rect x="5" y="326" width="1841" height="1" fill="#FF0000"/>
<rect x="5" y="324" width="5" height="5" fill="#FF0000"/><rect x="6" y="325" width="3" height="3" fill="#FFFFFF"/>
<rect x="1841" y="324" width="5" height="5" fill="#FF0000"/><rect x="1842" y="325" width="3" height="3" fill="#FFFFFF"/>
</g>
<rect x="4" y="4" width="1843" height="1" fill="#000"/><rect x="4" y="4" width="1" height="510" fill="#000"/><rect x="4" y="513" width="1843" height="1" fill="#000"/>
<rect x="4" y="515" width="1844" height="1" fill="#000"/><rect x="4" y="515" width="1" height="255" fill="#000"/><rect x="4" y="769" width="1844" height="1" fill="#000"/>
<rect x="1846" y="4" width="1" height="766" fill="#000"/>
<polygon points="1471.5,5 1481.5,5 1476.5,10.5" fill="#000" shape-rendering="auto"/>
<text x="9.3" y="16" textLength="71.4" lengthAdjust="spacingAndGlyphs">USOUSD.pro,H4</text><text x="87" y="16" textLength="120.8" lengthAdjust="spacingAndGlyphs">61.085 61.362 61.047 61.243</text>
<rect x="1847" y="15" width="2" height="1" fill="#000"/>
<text x="1852" y="18.9" textLength="28" lengthAdjust="spacingAndGlyphs">68.545</text>
<rect x="1847" y="48" width="2" height="1" fill="#000"/>
<text x="1852" y="51.9" textLength="28" lengthAdjust="spacingAndGlyphs">67.545</text>
<rect x="1847" y="81" width="2" height="1" fill="#000"/>
<text x="1852" y="84.9" textLength="28" lengthAdjust="spacingAndGlyphs">66.545</text>
<rect x="1847" y="114" width="2" height="1" fill="#000"/>
<text x="1852" y="117.9" textLength="28" lengthAdjust="spacingAndGlyphs">65.570</text>
<rect x="1847" y="147" width="2" height="1" fill="#000"/>
<text x="1852" y="150.9" textLength="28" lengthAdjust="spacingAndGlyphs">64.570</text>
<rect x="1847" y="180" width="2" height="1" fill="#000"/>
<text x="1852" y="183.9" textLength="28" lengthAdjust="spacingAndGlyphs">63.570</text>
<rect x="1847" y="213" width="2" height="1" fill="#000"/>
<text x="1852" y="216.9" textLength="28" lengthAdjust="spacingAndGlyphs">62.570</text>
<rect x="1847" y="246" width="2" height="1" fill="#000"/>
<text x="1852" y="249.9" textLength="28" lengthAdjust="spacingAndGlyphs">61.595</text>
<rect x="1847" y="279" width="2" height="1" fill="#000"/>
<text x="1852" y="282.9" textLength="28" lengthAdjust="spacingAndGlyphs">60.595</text>
<rect x="1847" y="312" width="2" height="1" fill="#000"/>
<text x="1852" y="315.9" textLength="28" lengthAdjust="spacingAndGlyphs">59.595</text>
<rect x="1847" y="345" width="2" height="1" fill="#000"/>
<text x="1852" y="348.9" textLength="28" lengthAdjust="spacingAndGlyphs">58.620</text>
<rect x="1847" y="378" width="2" height="1" fill="#000"/>
<text x="1852" y="381.9" textLength="28" lengthAdjust="spacingAndGlyphs">57.620</text>
<rect x="1847" y="411" width="2" height="1" fill="#000"/>
<text x="1852" y="414.9" textLength="28" lengthAdjust="spacingAndGlyphs">56.620</text>
<rect x="1847" y="444" width="2" height="1" fill="#000"/>
<text x="1852" y="447.9" textLength="28" lengthAdjust="spacingAndGlyphs">55.620</text>
<rect x="1847" y="477" width="2" height="1" fill="#000"/>
<text x="1852" y="480.9" textLength="28" lengthAdjust="spacingAndGlyphs">54.645</text>
<rect x="1847" y="510" width="2" height="1" fill="#000"/>
<text x="1852" y="513.9" textLength="28" lengthAdjust="spacingAndGlyphs">53.645</text>
<rect x="1848" y="190" width="36" height="11" fill="#FF0000"/>
<text x="1852" y="199.9" textLength="28" lengthAdjust="spacingAndGlyphs" class="w">63.084</text>
<rect x="1848" y="219" width="36" height="11" fill="#FF0000"/>
<text x="1852" y="228.9" textLength="28" lengthAdjust="spacingAndGlyphs" class="w">62.218</text>
<rect x="1848" y="282" width="36" height="11" fill="#FF0000"/>
<text x="1852" y="291.9" textLength="28" lengthAdjust="spacingAndGlyphs" class="w">60.333</text>
<rect x="1848" y="320" width="36" height="11" fill="#FF0000"/>
<text x="1852" y="329.9" textLength="28" lengthAdjust="spacingAndGlyphs" class="w">59.186</text>
<rect x="1848" y="253" width="36" height="11" fill="#000"/>
<text x="1852" y="262" textLength="28" lengthAdjust="spacingAndGlyphs" class="w">61.243</text>
<g clip-path="url(#cs)">
<rect x="5" y="658" width="1" height="16" fill="#008000"/>
<rect x="13" y="658" width="1" height="28" fill="#008000"/>
<rect x="21" y="658" width="1" height="33" fill="#008000"/>
<rect x="29" y="658" width="1" height="26" fill="#008000"/>
<rect x="37" y="658" width="1" height="12" fill="#008000"/>
<rect x="45" y="658" width="1" height="8" fill="#008000"/>
<rect x="53" y="658" width="1" height="4" fill="#008000"/>
<rect x="61" y="654" width="1" height="5" fill="#FF0000"/>
<rect x="69" y="647" width="1" height="12" fill="#FF0000"/>
<rect x="77" y="644" width="1" height="15" fill="#FF0000"/>
<rect x="85" y="640" width="1" height="19" fill="#FF0000"/>
<rect x="93" y="639" width="1" height="20" fill="#FF0000"/>
<rect x="101" y="641" width="1" height="18" fill="#FF0000"/>
<rect x="109" y="640" width="1" height="19" fill="#FF0000"/>
<rect x="117" y="640" width="1" height="19" fill="#FF0000"/>
<rect x="125" y="647" width="1" height="12" fill="#FF0000"/>
<rect x="133" y="641" width="1" height="18" fill="#FF0000"/>
<rect x="141" y="631" width="1" height="28" fill="#FF0000"/>
<rect x="149" y="628" width="1" height="31" fill="#FF0000"/>
<rect x="157" y="629" width="1" height="30" fill="#FF0000"/>
<rect x="165" y="631" width="1" height="28" fill="#FF0000"/>
<rect x="173" y="639" width="1" height="20" fill="#FF0000"/>
<rect x="181" y="642" width="1" height="17" fill="#FF0000"/>
<rect x="189" y="648" width="1" height="11" fill="#FF0000"/>
<rect x="197" y="657" width="1" height="2" fill="#FF0000"/>
<rect x="205" y="658" width="1" height="9" fill="#008000"/>
<rect x="213" y="658" width="1" height="15" fill="#008000"/>
<rect x="221" y="658" width="1" height="22" fill="#008000"/>
<rect x="229" y="658" width="1" height="18" fill="#008000"/>
<rect x="237" y="658" width="1" height="22" fill="#008000"/>
<rect x="245" y="658" width="1" height="22" fill="#008000"/>
<rect x="253" y="658" width="1" height="20" fill="#008000"/>
<rect x="261" y="658" width="1" height="22" fill="#008000"/>
<rect x="269" y="658" width="1" height="25" fill="#008000"/>
<rect x="277" y="658" width="1" height="25" fill="#008000"/>
<rect x="285" y="658" width="1" height="27" fill="#008000"/>
<rect x="293" y="658" width="1" height="30" fill="#008000"/>
<rect x="301" y="658" width="1" height="25" fill="#008000"/>
<rect x="309" y="658" width="1" height="20" fill="#008000"/>
<rect x="317" y="658" width="1" height="20" fill="#008000"/>
<rect x="325" y="658" width="1" height="23" fill="#008000"/>
<rect x="333" y="658" width="1" height="18" fill="#008000"/>
<rect x="341" y="658" width="1" height="15" fill="#008000"/>
<rect x="349" y="658" width="1" height="14" fill="#008000"/>
<rect x="357" y="658" width="1" height="15" fill="#008000"/>
<rect x="365" y="658" width="1" height="5" fill="#008000"/>
<rect x="373" y="649" width="1" height="10" fill="#FF0000"/>
<rect x="381" y="639" width="1" height="20" fill="#FF0000"/>
<rect x="389" y="629" width="1" height="30" fill="#FF0000"/>
<rect x="397" y="623" width="1" height="36" fill="#FF0000"/>
<rect x="405" y="623" width="1" height="36" fill="#FF0000"/>
<rect x="413" y="621" width="1" height="38" fill="#FF0000"/>
<rect x="421" y="616" width="1" height="43" fill="#FF0000"/>
<rect x="429" y="610" width="1" height="49" fill="#FF0000"/>
<rect x="437" y="611" width="1" height="48" fill="#FF0000"/>
<rect x="445" y="615" width="1" height="44" fill="#FF0000"/>
<rect x="453" y="620" width="1" height="39" fill="#FF0000"/>
<rect x="461" y="626" width="1" height="33" fill="#FF0000"/>
<rect x="469" y="640" width="1" height="19" fill="#FF0000"/>
<rect x="477" y="643" width="1" height="16" fill="#FF0000"/>
<rect x="485" y="644" width="1" height="15" fill="#FF0000"/>
<rect x="493" y="645" width="1" height="14" fill="#FF0000"/>
<rect x="501" y="647" width="1" height="12" fill="#FF0000"/>
<rect x="509" y="655" width="1" height="4" fill="#FF0000"/>
<rect x="517" y="652" width="1" height="7" fill="#FF0000"/>
<rect x="525" y="650" width="1" height="9" fill="#FF0000"/>
<rect x="533" y="655" width="1" height="4" fill="#FF0000"/>
<rect x="541" y="658" width="1" height="2" fill="#008000"/>
<rect x="549" y="658" width="1" height="5" fill="#008000"/>
<rect x="557" y="658" width="1" height="15" fill="#008000"/>
<rect x="565" y="658" width="1" height="32" fill="#008000"/>
<rect x="573" y="658" width="1" height="50" fill="#008000"/>
<rect x="581" y="658" width="1" height="61" fill="#008000"/>
<rect x="589" y="658" width="1" height="64" fill="#008000"/>
<rect x="597" y="658" width="1" height="62" fill="#008000"/>
<rect x="605" y="658" width="1" height="63" fill="#008000"/>
<rect x="613" y="658" width="1" height="60" fill="#008000"/>
<rect x="621" y="658" width="1" height="56" fill="#008000"/>
<rect x="629" y="658" width="1" height="49" fill="#008000"/>
<rect x="637" y="658" width="1" height="41" fill="#008000"/>
<rect x="645" y="658" width="1" height="34" fill="#008000"/>
<rect x="653" y="658" width="1" height="33" fill="#008000"/>
<rect x="661" y="658" width="1" height="33" fill="#008000"/>
<rect x="669" y="658" width="1" height="29" fill="#008000"/>
<rect x="677" y="658" width="1" height="24" fill="#008000"/>
<rect x="685" y="658" width="1" height="15" fill="#008000"/>
<rect x="693" y="658" width="1" height="7" fill="#008000"/>
<rect x="701" y="658" width="1" height="8" fill="#008000"/>
<rect x="709" y="658" width="1" height="6" fill="#008000"/>
<rect x="717" y="658" width="1" height="15" fill="#008000"/>
<rect x="725" y="658" width="1" height="18" fill="#008000"/>
<rect x="733" y="658" width="1" height="18" fill="#008000"/>
<rect x="741" y="658" width="1" height="12" fill="#008000"/>
<rect x="749" y="658" width="1" height="9" fill="#008000"/>
<rect x="757" y="658" width="1" height="4" fill="#008000"/>
<rect x="765" y="654" width="1" height="5" fill="#FF0000"/>
<rect x="773" y="653" width="1" height="6" fill="#FF0000"/>
<rect x="781" y="638" width="1" height="21" fill="#FF0000"/>
<rect x="789" y="629" width="1" height="30" fill="#FF0000"/>
<rect x="797" y="621" width="1" height="38" fill="#FF0000"/>
<rect x="805" y="618" width="1" height="41" fill="#FF0000"/>
<rect x="813" y="619" width="1" height="40" fill="#FF0000"/>
<rect x="821" y="622" width="1" height="37" fill="#FF0000"/>
<rect x="829" y="625" width="1" height="34" fill="#FF0000"/>
<rect x="837" y="627" width="1" height="32" fill="#FF0000"/>
<rect x="845" y="635" width="1" height="24" fill="#FF0000"/>
<rect x="853" y="640" width="1" height="19" fill="#FF0000"/>
<rect x="861" y="646" width="1" height="13" fill="#FF0000"/>
<rect x="869" y="645" width="1" height="14" fill="#FF0000"/>
<rect x="877" y="642" width="1" height="17" fill="#FF0000"/>
<rect x="885" y="640" width="1" height="19" fill="#FF0000"/>
<rect x="893" y="636" width="1" height="23" fill="#FF0000"/>
<rect x="901" y="638" width="1" height="21" fill="#FF0000"/>
<rect x="909" y="635" width="1" height="24" fill="#FF0000"/>
<rect x="917" y="640" width="1" height="19" fill="#FF0000"/>
<rect x="925" y="646" width="1" height="13" fill="#FF0000"/>
<rect x="933" y="647" width="1" height="12" fill="#FF0000"/>
<rect x="941" y="649" width="1" height="10" fill="#FF0000"/>
<rect x="949" y="652" width="1" height="7" fill="#FF0000"/>
<rect x="957" y="658" width="1" height="7" fill="#008000"/>
<rect x="965" y="658" width="1" height="15" fill="#008000"/>
<rect x="973" y="658" width="1" height="18" fill="#008000"/>
<rect x="981" y="658" width="1" height="22" fill="#008000"/>
<rect x="989" y="658" width="1" height="26" fill="#008000"/>
<rect x="997" y="658" width="1" height="36" fill="#008000"/>
<rect x="1005" y="658" width="1" height="58" fill="#008000"/>
<rect x="1013" y="658" width="1" height="75" fill="#008000"/>
<rect x="1021" y="658" width="1" height="64" fill="#008000"/>
<rect x="1029" y="658" width="1" height="54" fill="#008000"/>
<rect x="1037" y="658" width="1" height="40" fill="#008000"/>
<rect x="1045" y="658" width="1" height="29" fill="#008000"/>
<rect x="1053" y="658" width="1" height="18" fill="#008000"/>
<rect x="1061" y="658" width="1" height="10" fill="#008000"/>
<rect x="1069" y="658" width="1" height="1" fill="#008000"/>
<rect x="1077" y="658" width="1" height="1" fill="#008000"/>
<rect x="1085" y="658" width="1" height="12" fill="#008000"/>
<rect x="1093" y="658" width="1" height="18" fill="#008000"/>
<rect x="1101" y="658" width="1" height="15" fill="#008000"/>
<rect x="1109" y="658" width="1" height="14" fill="#008000"/>
<rect x="1117" y="658" width="1" height="10" fill="#008000"/>
<rect x="1125" y="658" width="1" height="6" fill="#008000"/>
<rect x="1141" y="651" width="1" height="8" fill="#FF0000"/>
<rect x="1149" y="650" width="1" height="9" fill="#FF0000"/>
<rect x="1157" y="646" width="1" height="13" fill="#FF0000"/>
<rect x="1165" y="644" width="1" height="15" fill="#FF0000"/>
<rect x="1173" y="641" width="1" height="18" fill="#FF0000"/>
<rect x="1181" y="642" width="1" height="17" fill="#FF0000"/>
<rect x="1189" y="644" width="1" height="15" fill="#FF0000"/>
<rect x="1197" y="657" width="1" height="2" fill="#FF0000"/>
<rect x="1205" y="658" width="1" height="7" fill="#008000"/>
<rect x="1213" y="658" width="1" height="15" fill="#008000"/>
<rect x="1221" y="658" width="1" height="16" fill="#008000"/>
<rect x="1229" y="658" width="1" height="21" fill="#008000"/>
<rect x="1237" y="658" width="1" height="15" fill="#008000"/>
<rect x="1245" y="658" width="1" height="7" fill="#008000"/>
<rect x="1253" y="657" width="1" height="2" fill="#FF0000"/>
<rect x="1261" y="651" width="1" height="8" fill="#FF0000"/>
<rect x="1269" y="648" width="1" height="11" fill="#FF0000"/>
<rect x="1277" y="645" width="1" height="14" fill="#FF0000"/>
<rect x="1285" y="646" width="1" height="13" fill="#FF0000"/>
<rect x="1293" y="643" width="1" height="16" fill="#FF0000"/>
<rect x="1301" y="642" width="1" height="17" fill="#FF0000"/>
<rect x="1309" y="642" width="1" height="17" fill="#FF0000"/>
<rect x="1317" y="640" width="1" height="19" fill="#FF0000"/>
<rect x="1325" y="634" width="1" height="25" fill="#FF0000"/>
<rect x="1333" y="641" width="1" height="18" fill="#FF0000"/>
<rect x="1341" y="638" width="1" height="21" fill="#FF0000"/>
<rect x="1349" y="632" width="1" height="27" fill="#FF0000"/>
<rect x="1357" y="630" width="1" height="29" fill="#FF0000"/>
<rect x="1365" y="620" width="1" height="39" fill="#FF0000"/>
<rect x="1373" y="616" width="1" height="43" fill="#FF0000"/>
<rect x="1381" y="609" width="1" height="50" fill="#FF0000"/>
<rect x="1389" y="610" width="1" height="49" fill="#FF0000"/>
<rect x="1397" y="603" width="1" height="56" fill="#FF0000"/>
<rect x="1405" y="596" width="1" height="63" fill="#FF0000"/>
<rect x="1413" y="583" width="1" height="76" fill="#FF0000"/>
<rect x="1421" y="569" width="1" height="90" fill="#FF0000"/>
<rect x="1429" y="566" width="1" height="93" fill="#FF0000"/>
<rect x="1437" y="570" width="1" height="89" fill="#FF0000"/>
<rect x="1445" y="578" width="1" height="81" fill="#FF0000"/>
<rect x="1453" y="595" width="1" height="64" fill="#FF0000"/>
<rect x="1461" y="611" width="1" height="48" fill="#FF0000"/>
<path d="M237 643h2v1h-2zM762 746h2v1h-2zM1141 746h9v1h-9zM1207 746h2v1h-2zM665 736h3v1h-3zM684 736h3v1h-3zM698 736h2v1h-2zM1167 736h2v1h-2zM1276 736h10v1h-10zM164 614h5v1h-5zM178 614h12v1h-12zM519 591h3v1h-3zM529 591h3v1h-3zM1019 741h4v1h-4zM1034 741h2v1h-2zM1076 741h2v1h-2zM1157 741h2v1h-2zM1201 741h2v1h-2zM1263 741h3v1h-3zM297 680h13v1h-13zM852 680h10v1h-10zM72 667h4v1h-4zM279 667h2v1h-2zM879 667h2v1h-2zM972 667h2v1h-2zM506 595h2v1h-2zM511 595h2v1h-2zM538 595h2v1h-2zM293 679h4v1h-4zM862 679h2v1h-2zM498 592h4v1h-4zM517 592h2v1h-2zM532 592h2v1h-2zM116 647h5v1h-5zM247 647h4v1h-4zM932 647h18v1h-18zM730 755h2v1h-2zM735 755h3v1h-3zM1120 755h4v1h-4zM1225 755h2v1h-2zM1233 755h2v1h-2zM67 669h2v1h-2zM675 739h4v1h-4zM1013 739h2v1h-2zM1050 739h7v1h-7zM1064 739h4v1h-4zM1071 739h2v1h-2zM1161 739h2v1h-2zM1268 739h3v1h-3zM64 671h2v1h-2zM979 671h2v1h-2zM1150 745h2v1h-2zM1251 745h2v1h-2zM114 648h2v1h-2zM121 648h5v1h-5zM251 648h3v1h-3zM930 648h2v1h-2zM1386 648h2v1h-2zM91 658h2v1h-2zM895 658h3v1h-3zM106 651h2v1h-2zM257 651h2v1h-2zM1382 651h2v1h-2zM732 756h3v1h-3zM1091 756h2v1h-2zM1098 756h7v1h-7zM1114 756h6v1h-6zM1227 756h2v1h-2zM1231 756h2v1h-2zM746 752h6v1h-6zM1130 752h2v1h-2zM1219 752h3v1h-3zM1239 752h2v1h-2zM87 660h2v1h-2zM891 660h2v1h-2zM1327 711h4v1h-4zM641 717h3v1h-3zM329 693h8v1h-8zM819 693h2v1h-2zM226 636h4v1h-4zM157 616h3v1h-3zM192 616h2v1h-2zM221 637h5v1h-5zM692 733h2v1h-2zM1173 733h3v1h-3zM1015 740h4v1h-4zM1036 740h14v1h-14zM1057 740h7v1h-7zM1073 740h3v1h-3zM1159 740h2v1h-2zM1266 740h2v1h-2zM78 665h2v1h-2zM276 665h2v1h-2zM883 665h2v1h-2zM968 665h2v1h-2zM622 707h2v1h-2zM97 655h2v1h-2zM902 655h2v1h-2zM671 738h4v1h-4zM679 738h3v1h-3zM705 738h5v1h-5zM1068 738h3v1h-3zM1163 738h2v1h-2zM1271 738h3v1h-3zM661 734h2v1h-2zM690 734h2v1h-2zM694 734h2v1h-2zM1171 734h2v1h-2zM1288 734h2v1h-2zM1184 730h4v1h-4zM1295 730h2v1h-2zM488 596h2v1h-2zM508 596h3v1h-3zM540 596h3v1h-3zM1315 720h2v1h-2zM1309 723h2v1h-2zM1023 742h4v1h-4zM1031 742h3v1h-3zM1155 742h2v1h-2zM1260 742h3v1h-3zM241 645h3v1h-3zM493 593h5v1h-5zM502 593h2v1h-2zM515 593h2v1h-2zM534 593h2v1h-2zM443 608h2v1h-2zM149 620h2v1h-2zM1303 726h2v1h-2zM985 675h2v1h-2zM99 654h2v1h-2zM403 654h2v1h-2zM283 670h2v1h-2zM977 670h2v1h-2zM1180 731h4v1h-4zM1293 731h2v1h-2zM723 751h2v1h-2zM752 751h4v1h-4zM1132 751h2v1h-2zM1215 751h4v1h-4zM1241 751h2v1h-2zM313 683h2v1h-2zM837 683h5v1h-5zM89 659h2v1h-2zM893 659h2v1h-2zM630 712h2v1h-2zM1331 712h3v1h-3zM1458 528h3v1h-3zM1299 728h2v1h-2zM721 750h2v1h-2zM756 750h2v1h-2zM1134 750h2v1h-2zM1213 750h2v1h-2zM1243 750h2v1h-2zM726 753h2v1h-2zM740 753h6v1h-6zM1087 753h2v1h-2zM1127 753h3v1h-3zM1222 753h2v1h-2zM1237 753h2v1h-2zM806 701h2v1h-2zM663 735h2v1h-2zM687 735h3v1h-3zM696 735h2v1h-2zM1169 735h2v1h-2zM1286 735h2v1h-2zM17 684h2v1h-2zM315 684h2v1h-2zM835 684h2v1h-2zM26 686h4v1h-4zM831 686h2v1h-2zM310 681h2v1h-2zM848 681h4v1h-4zM486 597h2v1h-2zM543 597h4v1h-4zM69 668h3v1h-3zM877 668h2v1h-2zM974 668h2v1h-2zM351 698h2v1h-2zM361 698h2v1h-2zM811 698h2v1h-2zM718 748h2v1h-2zM1246 748h2v1h-2zM95 656h2v1h-2zM400 656h2v1h-2zM900 656h2v1h-2zM37 677h4v1h-4zM54 677h2v1h-2zM649 722h2v1h-2zM1311 722h2v1h-2zM41 678h13v1h-13zM864 678h2v1h-2zM634 714h2v1h-2zM345 696h3v1h-3zM814 696h2v1h-2zM103 652h3v1h-3zM259 652h2v1h-2zM906 652h2v1h-2zM272 663h2v1h-2zM886 663h2v1h-2zM160 615h4v1h-4zM169 615h9v1h-9zM190 615h2v1h-2zM101 653h2v1h-2zM1450 529h8v1h-8zM1176 732h4v1h-4zM1291 732h2v1h-2zM93 657h2v1h-2zM398 657h2v1h-2zM898 657h2v1h-2zM1093 757h5v1h-5zM1105 757h9v1h-9zM1229 757h2v1h-2zM211 629h2v1h-2zM356 700h3v1h-3zM808 700h2v1h-2zM728 754h2v1h-2zM738 754h2v1h-2zM1124 754h3v1h-3zM1235 754h2v1h-2zM1313 721h2v1h-2zM770 743h4v1h-4zM1027 743h4v1h-4zM1256 743h4v1h-4zM824 690h2v1h-2zM491 594h2v1h-2zM504 594h2v1h-2zM513 594h2v1h-2zM536 594h2v1h-2zM644 718h2v1h-2zM636 715h3v1h-3zM62 672h2v1h-2zM872 672h2v1h-2zM451 604h2v1h-2zM465 604h3v1h-3zM472 604h4v1h-4zM76 666h2v1h-2zM881 666h2v1h-2zM970 666h2v1h-2zM348 697h3v1h-3zM363 697h2v1h-2zM337 694h6v1h-6zM209 628h2v1h-2zM206 626h2v1h-2zM668 737h3v1h-3zM682 737h2v1h-2zM700 737h5v1h-5zM1165 737h2v1h-2zM1274 737h2v1h-2zM1307 724h2v1h-2zM111 649h3v1h-3zM254 649h2v1h-2zM914 649h7v1h-7zM927 649h3v1h-3zM458 602h5v1h-5zM478 602h2v1h-2zM201 622h2v1h-2zM83 662h2v1h-2zM270 662h2v1h-2zM888 662h2v1h-2zM625 709h2v1h-2zM1336 709h2v1h-2zM827 688h2v1h-2zM353 699h3v1h-3zM359 699h2v1h-2zM547 598h3v1h-3zM56 676h2v1h-2zM867 676h2v1h-2zM987 676h2v1h-2zM632 713h2v1h-2zM85 661h2v1h-2zM982 673h2v1h-2zM453 603h5v1h-5zM463 603h2v1h-2zM476 603h2v1h-2zM21 687h5v1h-5zM829 687h2v1h-2zM449 605h2v1h-2zM468 605h4v1h-4zM1445 530h5v1h-5zM233 640h2v1h-2zM108 650h3v1h-3zM408 650h2v1h-2zM909 650h5v1h-5zM921 650h6v1h-6zM155 617h2v1h-2zM194 617h2v1h-2zM343 695h2v1h-2zM816 695h2v1h-2zM1350 695h2v1h-2zM627 710h2v1h-2zM1325 710h2v1h-2zM80 664h2v1h-2zM274 664h2v1h-2zM966 664h2v1h-2zM758 749h2v1h-2zM1136 749h2v1h-2zM1211 749h2v1h-2zM321 689h2v1h-2zM522 590h2v1h-2zM527 590h2v1h-2zM217 634h2v1h-2zM244 646h3v1h-3zM59 674h2v1h-2zM765 744h5v1h-5zM1152 744h2v1h-2zM1253 744h3v1h-3zM833 685h2v1h-2zM1301 727h2v1h-2zM1188 729h2v1h-2zM1297 729h2v1h-2zM440 610h2v1h-2zM438 611h2v1h-2zM524 589h3v1h-3zM842 682h6v1h-6zM447 606h2v1h-2zM480 601h2v1h-2zM822 691h2v1h-2zM153 618h2v1h-2zM196 618h2v1h-2zM325 692h4v1h-4zM1354 692h2v1h-2zM1305 725h2v1h-2zM1139 747h2v1h-2zM1248 747h2v1h-2zM483 599h2v1h-2zM239 644h2v1h-2zM445 607h2v1h-2zM151 619h2v1h-2zM639 716h2v1h-2zM1391 642h1v2h-1zM1081 746h1v1h-1zM1416 585h1v4h-1zM1415 589h1v3h-1zM1440 535h1v1h-1zM1435 541h1v2h-1zM715 745h1v1h-1zM950 648h1v1h-1zM908 651h1v1h-1zM1431 547h1v2h-1zM796 711h1v1h-1zM1378 657h1v2h-1zM791 717h1v1h-1zM220 636h1v1h-1zM1394 638h1v1h-1zM1427 555h1v2h-1zM1193 733h1v1h-1zM387 669h1v2h-1zM1374 664h1v2h-1zM1339 707h1v1h-1zM580 655h1v2h-1zM1194 734h1v1h-1zM788 720h1v1h-1zM1008 723h1v3h-1zM1390 644h1v2h-1zM1011 732h1v3h-1zM1414 592h1v4h-1zM558 607h1v2h-1zM1403 620h1v2h-1zM783 726h1v1h-1zM803 704h1v1h-1zM595 675h1v1h-1zM956 654h1v1h-1zM559 609h1v2h-1zM658 731h1v1h-1zM32 683h1v1h-1zM1323 712h1v1h-1zM1000 700h1v3h-1zM374 684h1v1h-1zM566 624h1v2h-1zM1430 549h1v2h-1zM1362 681h1v2h-1zM2 668h1v1h-1zM215 632h1v1h-1zM775 739h1v2h-1zM216 633h1v1h-1zM573 640h1v3h-1zM1426 557h1v2h-1zM386 671h1v1h-1zM1083 748h1v2h-1zM989 677h1v1h-1zM436 613h1v1h-1zM381 677h1v1h-1zM990 678h1v2h-1zM397 658h1v1h-1zM725 752h1v1h-1zM1349 696h1v1h-1zM261 653h1v1h-1zM617 701h1v2h-1zM9 675h1v2h-1zM1361 683h1v1h-1zM-1 665h1v1h-1zM136 635h1v2h-1zM1417 582h1v3h-1zM774 741h1v2h-1zM1089 754h1v1h-1zM1007 720h1v3h-1zM1425 559h1v3h-1zM1196 736h1v1h-1zM1357 690h1v1h-1zM656 728h1v1h-1zM1010 729h1v3h-1zM420 636h1v2h-1zM435 614h1v2h-1zM267 659h1v1h-1zM286 672h1v1h-1zM959 657h1v1h-1zM568 628h1v3h-1zM1396 634h1v2h-1zM1408 608h1v3h-1zM572 638h1v2h-1zM442 609h1v1h-1zM407 651h1v1h-1zM1084 750h1v1h-1zM1085 751h1v1h-1zM423 631h1v2h-1zM785 723h1v2h-1zM553 602h1v1h-1zM281 668h1v1h-1zM419 638h1v1h-1zM414 644h1v2h-1zM1420 571h1v4h-1zM905 653h1v1h-1zM1002 706h1v3h-1zM1407 611h1v2h-1zM1439 536h1v1h-1zM599 680h1v1h-1zM600 681h1v1h-1zM269 661h1v1h-1zM1367 673h1v2h-1zM795 712h1v1h-1zM1419 575h1v3h-1zM1363 679h1v2h-1zM1406 613h1v2h-1zM869 675h1v1h-1zM1190 730h1v1h-1zM367 693h1v1h-1zM581 657h1v2h-1zM36 678h1v1h-1zM997 692h1v3h-1zM141 628h1v1h-1zM429 622h1v1h-1zM-2 664h1v1h-1zM1418 578h1v4h-1zM1342 704h1v1h-1zM425 628h1v2h-1zM385 672h1v1h-1zM1245 749h1v1h-1zM660 733h1v1h-1zM1358 688h1v2h-1zM148 621h1v1h-1zM601 682h1v2h-1zM602 684h1v1h-1zM1413 596h1v3h-1zM1422 566h1v2h-1zM818 694h1v1h-1zM428 623h1v2h-1zM482 600h1v1h-1zM219 635h1v1h-1zM1441 534h1v1h-1zM1203 742h1v1h-1zM1192 732h1v1h-1zM579 653h1v2h-1zM582 659h1v1h-1zM146 623h1v1h-1zM583 660h1v2h-1zM263 655h1v1h-1zM1013 738h1v1h-1zM955 653h1v1h-1zM995 688h1v2h-1zM1384 650h1v1h-1zM657 729h1v2h-1zM1421 568h1v3h-1zM561 613h1v2h-1zM996 690h1v2h-1zM794 713h1v1h-1zM1318 718h1v1h-1zM1 667h1v1h-1zM134 638h1v2h-1zM214 631h1v1h-1zM789 719h1v1h-1zM575 645h1v2h-1zM1199 739h1v1h-1zM1210 748h1v1h-1zM288 674h1v1h-1zM885 664h1v1h-1zM961 659h1v1h-1zM603 685h1v1h-1zM781 728h1v1h-1zM801 706h1v1h-1zM604 686h1v2h-1zM904 654h1v1h-1zM777 735h1v2h-1zM372 686h1v2h-1zM392 664h1v1h-1zM1344 702h1v1h-1zM7 673h1v1h-1zM8 674h1v1h-1zM1205 744h1v1h-1zM870 674h1v1h-1zM584 662h1v1h-1zM1335 710h1v1h-1zM1206 745h1v1h-1zM585 663h1v1h-1zM1195 735h1v1h-1zM655 727h1v1h-1zM1371 668h1v2h-1zM1012 735h1v3h-1zM1366 675h1v1h-1zM265 657h1v1h-1zM379 679h1v1h-1zM976 669h1v1h-1zM560 611h1v2h-1zM957 655h1v1h-1zM266 658h1v1h-1zM621 706h1v1h-1zM567 626h1v2h-1zM776 737h1v2h-1zM371 688h1v1h-1zM574 643h1v2h-1zM1402 622h1v2h-1zM963 661h1v1h-1zM291 677h1v1h-1zM606 689h1v1h-1zM964 662h1v1h-1zM433 617h1v1h-1zM140 629h1v2h-1zM1398 630h1v2h-1zM1410 603h1v3h-1zM1004 711h1v3h-1zM424 630h1v1h-1zM405 653h1v1h-1zM147 622h1v1h-1zM587 665h1v2h-1zM128 645h1v1h-1zM66 670h1v1h-1zM256 650h1v1h-1zM598 678h1v2h-1zM417 640h1v2h-1zM268 660h1v1h-1zM1381 652h1v1h-1zM139 631h1v1h-1zM1397 632h1v2h-1zM1409 606h1v2h-1zM1377 659h1v1h-1zM790 718h1v1h-1zM1393 639h1v2h-1zM1437 538h1v1h-1zM981 672h1v1h-1zM1154 743h1v1h-1zM1389 646h1v1h-1zM716 746h1v1h-1zM951 649h1v1h-1zM608 691h1v1h-1zM782 727h1v1h-1zM1433 544h1v2h-1zM1322 713h1v1h-1zM1380 653h1v2h-1zM230 637h1v1h-1zM485 598h1v1h-1zM793 714h1v2h-1zM778 733h1v2h-1zM11 678h1v1h-1zM373 685h1v1h-1zM1317 719h1v1h-1zM1444 531h1v1h-1zM12 679h1v1h-1zM1429 551h1v2h-1zM368 692h1v1h-1zM1376 660h1v2h-1zM589 668h1v1h-1zM659 732h1v1h-1zM34 680h1v1h-1zM800 707h1v1h-1zM396 659h1v1h-1zM1348 697h1v1h-1zM3 669h1v1h-1zM236 642h1v1h-1zM391 665h1v1h-1zM1343 703h1v1h-1zM1428 553h1v2h-1zM1340 706h1v1h-1zM383 674h1v2h-1zM378 680h1v1h-1zM610 694h1v1h-1zM33 681h1v2h-1zM953 651h1v1h-1zM563 617h1v2h-1zM998 695h1v3h-1zM876 669h1v1h-1zM232 639h1v1h-1zM570 633h1v3h-1zM1090 755h1v1h-1zM14 681h1v1h-1zM1197 737h1v1h-1zM406 652h1v1h-1zM1209 747h1v1h-1zM422 633h1v2h-1zM287 673h1v1h-1zM960 658h1v1h-1zM624 708h1v1h-1zM413 646h1v1h-1zM5 671h1v1h-1zM135 637h1v1h-1zM6 672h1v1h-1zM1086 752h1v1h-1zM1204 743h1v1h-1zM1438 537h1v1h-1zM127 646h1v1h-1zM282 669h1v1h-1zM264 656h1v1h-1zM619 704h1v1h-1zM562 615h1v2h-1zM312 682h1v1h-1zM1372 667h1v1h-1zM1405 615h1v3h-1zM380 678h1v1h-1zM786 722h1v1h-1zM1388 647h1v1h-1zM278 666h1v1h-1zM289 675h1v1h-1zM992 682h1v2h-1zM962 660h1v1h-1zM1432 546h1v1h-1zM605 688h1v1h-1zM1321 714h1v2h-1zM999 698h1v2h-1zM1009 726h1v3h-1zM866 677h1v1h-1zM984 674h1v1h-1zM434 616h1v1h-1zM1412 599h1v2h-1zM395 660h1v1h-1zM1347 698h1v1h-1zM390 666h1v1h-1zM577 649h1v2h-1zM129 644h1v1h-1zM1424 562h1v2h-1zM145 624h1v1h-1zM760 748h1v1h-1zM994 686h1v2h-1zM418 639h1v1h-1zM991 680h1v2h-1zM10 677h1v1h-1zM317 685h1v1h-1zM318 686h1v1h-1zM133 640h1v1h-1zM551 600h1v1h-1zM588 667h1v1h-1zM1434 543h1v1h-1zM412 647h1v1h-1zM16 683h1v1h-1zM576 647h1v2h-1zM324 691h1v1h-1zM1334 711h1v1h-1zM646 719h1v1h-1zM1370 670h1v1h-1zM1385 649h1v1h-1zM798 709h1v1h-1zM609 692h1v2h-1zM821 692h1v1h-1zM1365 676h1v1h-1zM58 675h1v1h-1zM389 667h1v1h-1zM1341 705h1v1h-1zM1003 709h1v2h-1zM319 687h1v1h-1zM384 673h1v1h-1zM320 688h1v1h-1zM890 661h1v1h-1zM805 702h1v1h-1zM285 671h1v1h-1zM590 669h1v1h-1zM958 656h1v1h-1zM376 682h1v1h-1zM1364 677h1v2h-1zM1360 684h1v2h-1zM203 623h1v1h-1zM292 678h1v1h-1zM648 721h1v1h-1zM965 663h1v1h-1zM1352 694h1v1h-1zM761 747h1v1h-1zM611 695h1v1h-1zM564 619h1v2h-1zM138 632h1v2h-1zM426 627h1v1h-1zM198 619h1v1h-1zM1359 686h1v2h-1zM402 655h1v1h-1zM1423 564h1v2h-1zM144 625h1v1h-1zM1436 539h1v2h-1zM1001 703h1v3h-1zM82 663h1v1h-1zM213 630h1v1h-1zM1079 743h1v2h-1zM1443 532h1v1h-1zM132 641h1v1h-1zM787 721h1v1h-1zM710 739h1v1h-1zM416 642h1v1h-1zM565 621h1v3h-1zM799 708h1v1h-1zM13 680h1v1h-1zM569 631h1v2h-1zM1392 641h1v1h-1zM366 694h1v2h-1zM1369 671h1v1h-1zM594 674h1v1h-1zM993 684h1v2h-1zM377 681h1v1h-1zM393 662h1v2h-1zM1345 700h1v2h-1zM875 670h1v1h-1zM19 685h1v1h-1zM388 668h1v1h-1zM1006 717h1v3h-1zM20 686h1v1h-1zM1078 742h1v1h-1zM369 690h1v2h-1zM1356 691h1v1h-1zM1404 618h1v2h-1zM712 741h1v1h-1zM550 599h1v1h-1zM713 742h1v2h-1zM431 619h1v2h-1zM15 682h1v1h-1zM427 625h1v2h-1zM323 690h1v1h-1zM578 651h1v2h-1zM592 671h1v1h-1zM556 605h1v1h-1zM593 672h1v2h-1zM126 647h1v1h-1zM1399 628h1v2h-1zM1411 601h1v2h-1zM137 634h1v1h-1zM205 625h1v1h-1zM1005 714h1v3h-1zM1250 746h1v1h-1zM421 635h1v1h-1zM764 745h1v1h-1zM613 697h1v1h-1zM552 601h1v1h-1zM614 698h1v1h-1zM780 729h1v2h-1zM1320 716h1v1h-1zM1442 533h1v1h-1zM290 676h1v1h-1zM779 731h1v2h-1zM394 661h1v1h-1zM1346 699h1v1h-1zM1082 747h1v1h-1zM1373 666h1v1h-1zM1338 708h1v1h-1zM365 696h1v1h-1zM586 664h1v1h-1zM1353 693h1v1h-1zM1368 672h1v1h-1zM717 747h1v1h-1zM952 650h1v1h-1zM615 699h1v1h-1zM1401 624h1v2h-1zM616 700h1v1h-1zM31 684h1v1h-1zM874 671h1v1h-1zM-3 663h1v1h-1zM813 697h1v1h-1zM596 676h1v1h-1zM597 677h1v1h-1zM607 690h1v1h-1zM142 627h1v1h-1zM430 621h1v1h-1zM1400 626h1v2h-1zM4 670h1v1h-1zM1138 748h1v1h-1zM1290 733h1v1h-1zM411 648h1v1h-1zM571 636h1v2h-1zM1191 731h1v1h-1zM130 643h1v1h-1zM651 723h1v1h-1zM652 724h1v1h-1zM262 654h1v1h-1zM954 652h1v1h-1zM618 703h1v1h-1zM235 641h1v1h-1zM797 710h1v1h-1zM1379 655h1v2h-1zM792 716h1v1h-1zM1395 636h1v2h-1zM1375 662h1v2h-1zM1198 738h1v1h-1zM647 720h1v1h-1zM784 725h1v1h-1zM804 703h1v1h-1zM711 740h1v1h-1zM1324 711h1v1h-1zM375 683h1v1h-1zM1319 717h1v1h-1zM231 638h1v1h-1zM370 689h1v1h-1zM208 627h1v1h-1zM802 705h1v1h-1zM554 603h1v1h-1zM653 725h1v1h-1zM437 612h1v1h-1zM382 676h1v1h-1zM591 670h1v1h-1zM555 604h1v1h-1zM654 726h1v1h-1zM826 689h1v1h-1zM432 618h1v1h-1zM620 705h1v1h-1zM490 595h1v1h-1zM871 673h1v1h-1zM204 624h1v1h-1zM810 699h1v1h-1zM1200 740h1v1h-1zM35 679h1v1h-1zM714 744h1v1h-1zM143 626h1v1h-1zM61 673h1v1h-1zM612 696h1v1h-1zM30 685h1v1h-1zM199 620h1v1h-1zM200 621h1v1h-1zM131 642h1v1h-1zM557 606h1v1h-1zM629 711h1v1h-1zM720 749h1v1h-1zM415 643h1v1h-1zM0 666h1v1h-1zM1224 754h1v1h-1zM410 649h1v1h-1zM1080 745h1v1h-1z" fill="#0000FF"/>
<polyline points="-2.5,658.9 5.5,658.9 13.5,658.9 21.5,662.5 29.5,666.3 37.5,669.5 45.5,672.7 53.5,675.2 61.5,677.6 69.5,678.0 77.5,677.6 85.5,675.5 93.5,671.6 101.5,668.9 109.5,665.7 117.5,662.1 125.5,658.9 133.5,654.7 141.5,650.5 149.5,645.2 157.5,639.9 165.5,634.6 173.5,630.8 181.5,626.7 189.5,622.9 197.5,619.8 205.5,619.1 213.5,619.3 221.5,620.2 229.5,622.9 237.5,625.7 245.5,628.9 253.5,632.5 261.5,637.8 269.5,642.0 277.5,646.7 285.5,651.5 293.5,655.3 301.5,661.1 309.5,664.9 317.5,669.9 325.5,675.2 333.5,679.1 341.5,683.3 349.5,686.5 357.5,690.1 365.5,691.1 373.5,691.1 381.5,690.8 389.5,688.5 397.5,684.4 405.5,680.7 413.5,675.0 421.5,667.6 429.5,658.1 437.5,648.5 445.5,640.5 453.5,632.6 461.5,626.3 469.5,619.9 477.5,614.6 485.5,609.4 493.5,605.1 501.5,601.3 509.5,600.5 517.5,598.8 525.5,597.7 533.5,596.6 541.5,595.2 549.5,595.2 557.5,595.2 565.5,598.1 573.5,603.0 581.5,610.4 589.5,618.9 597.5,628.4 605.5,639.0 613.5,649.6 621.5,661.2 629.5,673.9 637.5,684.5 645.5,693.0 653.5,701.0 661.5,707.8 669.5,714.6 677.5,721.2 685.5,724.8 693.5,727.9 701.5,730.7 709.5,732.6 717.5,735.8 725.5,738.9 733.5,742.1 741.5,744.2 749.5,745.5 757.5,747.6 765.5,748.1 773.5,748.1 781.5,747.8 789.5,745.0 797.5,739.8 805.5,734.0 813.5,728.1 821.5,721.3 829.5,714.3 837.5,708.0 845.5,701.2 853.5,695.3 861.5,690.6 869.5,687.2 877.5,683.2 885.5,679.4 893.5,675.6 901.5,672.0 909.5,668.2 917.5,665.2 925.5,661.4 933.5,658.9 941.5,656.1 949.5,652.5 957.5,651.9 965.5,651.9 973.5,652.9 981.5,656.1 989.5,659.3 997.5,662.5 1005.5,669.9 1013.5,681.5 1021.5,692.1 1029.5,702.7 1037.5,712.2 1045.5,719.6 1053.5,726.6 1061.5,732.8 1069.5,737.2 1077.5,740.2 1085.5,742.5 1093.5,743.6 1101.5,745.5 1109.5,747.2 1117.5,748.2 1125.5,750.3 1133.5,751.4 1141.5,752.5 1149.5,752.9 1157.5,752.5 1165.5,749.3 1173.5,747.6 1181.5,744.6 1189.5,741.4 1197.5,739.3 1205.5,739.1 1213.5,739.1 1221.5,739.3 1229.5,741.4 1237.5,743.6 1245.5,745.5 1253.5,746.5 1261.5,747.8 1269.5,747.8 1277.5,747.8 1285.5,746.5 1293.5,743.6 1301.5,740.2 1309.5,735.9 1317.5,733.0 1325.5,729.6 1333.5,726.4 1341.5,722.8 1349.5,719.2 1357.5,714.3 1365.5,707.6 1373.5,701.2 1381.5,693.2 1389.5,684.7 1397.5,675.2 1405.5,664.6 1413.5,653.5 1421.5,639.0 1429.5,623.9 1437.5,608.4 1445.5,592.7 1453.5,578.4 1461.5,565.8" fill="none" stroke="#FF0000" stroke-width="2"/>
</g>
<text x="9.5" y="527.8" textLength="65.4" lengthAdjust="spacingAndGlyphs">MACD(12,26,9)</text><text x="78.5" y="527.8" textLength="120" lengthAdjust="spacingAndGlyphs">1.0456 0.7464 0.3889 0.0000</text>
<text x="1850" y="526" textLength="27" lengthAdjust="spacingAndGlyphs">1.1375</text>
<rect x="1847" y="658" width="1" height="1" fill="#000"/><text x="1850" y="662" textLength="18" lengthAdjust="spacingAndGlyphs">0.00</text>
<text x="1850" y="766" textLength="31" lengthAdjust="spacingAndGlyphs">-0.8848</text>
<rect x="5" y="770" width="1" height="3" fill="#000"/>
<text x="5" y="782" textLength="51" lengthAdjust="spacingAndGlyphs">11 Sep 2025</text>
<rect x="69" y="770" width="1" height="3" fill="#000"/>
<text x="69" y="782" textLength="54" lengthAdjust="spacingAndGlyphs">15 Sep 05:00</text>
<rect x="133" y="770" width="1" height="3" fill="#000"/>
<text x="133" y="782" textLength="54" lengthAdjust="spacingAndGlyphs">16 Sep 13:00</text>
<rect x="197" y="770" width="1" height="3" fill="#000"/>
<text x="197" y="782" textLength="54" lengthAdjust="spacingAndGlyphs">17 Sep 21:00</text>
<rect x="261" y="770" width="1" height="3" fill="#000"/>
<text x="261" y="782" textLength="54" lengthAdjust="spacingAndGlyphs">19 Sep 05:00</text>
<rect x="325" y="770" width="1" height="3" fill="#000"/>
<text x="325" y="782" textLength="54" lengthAdjust="spacingAndGlyphs">22 Sep 13:00</text>
<rect x="389" y="770" width="1" height="3" fill="#000"/>
<text x="389" y="782" textLength="54" lengthAdjust="spacingAndGlyphs">23 Sep 21:00</text>
<rect x="453" y="770" width="1" height="3" fill="#000"/>
<text x="453" y="782" textLength="54" lengthAdjust="spacingAndGlyphs">25 Sep 05:00</text>
<rect x="517" y="770" width="1" height="3" fill="#000"/>
<text x="517" y="782" textLength="54" lengthAdjust="spacingAndGlyphs">26 Sep 13:00</text>
<rect x="581" y="770" width="1" height="3" fill="#000"/>
<text x="581" y="782" textLength="54" lengthAdjust="spacingAndGlyphs">29 Sep 21:00</text>
<rect x="645" y="770" width="1" height="3" fill="#000"/>
<text x="645" y="782" textLength="48" lengthAdjust="spacingAndGlyphs">1 Oct 05:00</text>
<rect x="709" y="770" width="1" height="3" fill="#000"/>
<text x="709" y="782" textLength="48" lengthAdjust="spacingAndGlyphs">2 Oct 13:00</text>
<rect x="773" y="770" width="1" height="3" fill="#000"/>
<text x="773" y="782" textLength="48" lengthAdjust="spacingAndGlyphs">3 Oct 21:00</text>
<rect x="837" y="770" width="1" height="3" fill="#000"/>
<text x="837" y="782" textLength="48" lengthAdjust="spacingAndGlyphs">7 Oct 05:00</text>
<rect x="901" y="770" width="1" height="3" fill="#000"/>
<text x="901" y="782" textLength="48" lengthAdjust="spacingAndGlyphs">8 Oct 13:00</text>
<rect x="965" y="770" width="1" height="3" fill="#000"/>
<text x="965" y="782" textLength="48" lengthAdjust="spacingAndGlyphs">9 Oct 21:00</text>
<rect x="1029" y="770" width="1" height="3" fill="#000"/>
<text x="1029" y="782" textLength="54" lengthAdjust="spacingAndGlyphs">13 Oct 05:00</text>
<rect x="1093" y="770" width="1" height="3" fill="#000"/>
<text x="1093" y="782" textLength="54" lengthAdjust="spacingAndGlyphs">14 Oct 13:00</text>
<rect x="1157" y="770" width="1" height="3" fill="#000"/>
<text x="1157" y="782" textLength="54" lengthAdjust="spacingAndGlyphs">15 Oct 21:00</text>
<rect x="1221" y="770" width="1" height="3" fill="#000"/>
<text x="1221" y="782" textLength="54" lengthAdjust="spacingAndGlyphs">17 Oct 05:00</text>
<rect x="1285" y="770" width="1" height="3" fill="#000"/>
<text x="1285" y="782" textLength="54" lengthAdjust="spacingAndGlyphs">20 Oct 13:00</text>
<rect x="1349" y="770" width="1" height="3" fill="#000"/>
<text x="1349" y="782" textLength="54" lengthAdjust="spacingAndGlyphs">21 Oct 21:00</text>
<rect x="1413" y="770" width="1" height="3" fill="#000"/>
<text x="1413" y="782" textLength="54" lengthAdjust="spacingAndGlyphs">23 Oct 05:00</text>
</svg></body></html>
